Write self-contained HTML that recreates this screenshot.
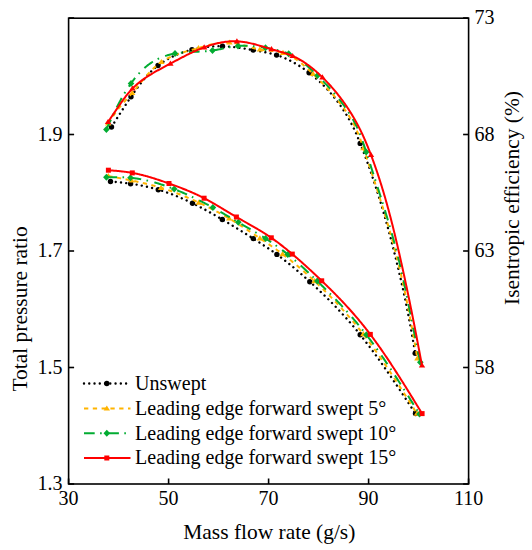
<!DOCTYPE html>
<html><head><meta charset="utf-8"><style>html,body{margin:0;padding:0;background:#fff;}svg{display:block;}text{font-family:"Liberation Serif",serif;fill:#000;}</style></head><body>
<svg width="532" height="550" viewBox="0 0 532 550">
<rect width="532" height="550" fill="#fff"/>
<path d="M111.50,127.00 L112.03,126.16 L112.56,125.32 L113.09,124.48 L113.62,123.64 L114.15,122.80 L114.68,121.96 L115.21,121.11 L115.74,120.27 L116.28,119.43 L116.81,118.59 L117.34,117.75 L117.87,116.91 L118.41,116.07 L118.94,115.23 L119.48,114.39 L120.02,113.55 L120.55,112.71 L121.09,111.87 L121.63,111.03 L122.17,110.20 L122.71,109.36 L123.25,108.52 L123.80,107.68 L124.34,106.84 L124.89,106.00 L125.44,105.17 L125.98,104.33 L126.53,103.49 L127.09,102.65 L127.64,101.82 L128.20,100.98 L128.75,100.15 L129.31,99.31 L129.87,98.48 L130.43,97.64 L131.00,96.81 L131.56,95.97 L132.13,95.14 L132.70,94.30 L133.27,93.47 L133.85,92.64 L134.43,91.81 L135.01,90.99 L135.59,90.16 L136.18,89.34 L136.77,88.52 L137.36,87.70 L137.96,86.89 L138.56,86.08 L139.17,85.27 L139.78,84.47 L140.40,83.67 L141.01,82.87 L141.64,82.08 L142.27,81.30 L142.90,80.52 L143.54,79.74 L144.19,78.98 L144.84,78.21 L145.49,77.45 L146.15,76.70 L146.82,75.96 L147.50,75.22 L148.18,74.49 L148.86,73.77 L149.56,73.05 L150.26,72.34 L150.97,71.64 L151.68,70.95 L152.40,70.27 L153.13,69.60 L153.87,68.93 L154.61,68.27 L155.37,67.63 L156.13,66.99 L156.90,66.37 L157.68,65.75 L158.47,65.14 L159.26,64.55 L160.07,63.96 L160.88,63.39 L161.70,62.83 L162.53,62.27 L163.36,61.73 L164.21,61.20 L165.06,60.68 L165.92,60.17 L166.78,59.66 L167.65,59.17 L168.53,58.69 L169.42,58.22 L170.31,57.75 L171.20,57.30 L172.10,56.86 L173.01,56.43 L173.93,56.00 L174.84,55.59 L175.77,55.18 L176.70,54.79 L177.63,54.40 L178.57,54.03 L179.51,53.66 L180.45,53.30 L181.40,52.95 L182.35,52.61 L183.31,52.28 L184.27,51.96 L185.23,51.64 L186.20,51.34 L187.16,51.04 L188.13,50.75 L189.11,50.48 L190.08,50.21 L191.06,49.94 L192.04,49.69 L193.02,49.45 L194.00,49.21 L194.98,48.98 L195.96,48.76 L196.95,48.55 L197.94,48.35 L198.92,48.15 L199.91,47.97 L200.90,47.79 L201.89,47.62 L202.88,47.47 L203.87,47.32 L204.87,47.17 L205.86,47.04 L206.85,46.92 L207.85,46.81 L208.84,46.70 L209.84,46.60 L210.83,46.52 L211.83,46.44 L212.83,46.37 L213.82,46.31 L214.82,46.26 L215.82,46.22 L216.81,46.19 L217.81,46.17 L218.80,46.16 L219.80,46.16 L220.80,46.16 L221.79,46.18 L222.79,46.21 L223.78,46.25 L224.77,46.29 L225.77,46.35 L226.76,46.41 L227.75,46.48 L228.75,46.56 L229.74,46.65 L230.73,46.74 L231.72,46.84 L232.71,46.95 L233.70,47.07 L234.69,47.19 L235.68,47.31 L236.67,47.44 L237.66,47.58 L238.65,47.72 L239.64,47.87 L240.63,48.01 L241.62,48.17 L242.61,48.32 L243.60,48.48 L244.59,48.64 L245.58,48.80 L246.56,48.97 L247.55,49.14 L248.54,49.30 L249.53,49.47 L250.52,49.64 L251.51,49.81 L252.50,49.98 L253.49,50.15 L254.48,50.32 L255.47,50.48 L256.46,50.65 L257.44,50.82 L258.43,50.99 L259.42,51.17 L260.41,51.34 L261.39,51.52 L262.38,51.70 L263.36,51.89 L264.34,52.08 L265.32,52.27 L266.30,52.47 L267.28,52.68 L268.25,52.89 L269.22,53.11 L270.20,53.34 L271.16,53.58 L272.13,53.82 L273.09,54.08 L274.05,54.34 L275.00,54.62 L275.96,54.90 L276.91,55.20 L277.85,55.50 L278.80,55.82 L279.73,56.15 L280.67,56.49 L281.60,56.85 L282.53,57.21 L283.45,57.58 L284.37,57.96 L285.29,58.36 L286.20,58.76 L287.11,59.18 L288.02,59.60 L288.92,60.03 L289.82,60.47 L290.71,60.93 L291.60,61.39 L292.49,61.86 L293.37,62.34 L294.25,62.82 L295.12,63.32 L295.99,63.82 L296.86,64.33 L297.72,64.85 L298.58,65.38 L299.43,65.92 L300.28,66.46 L301.13,67.01 L301.97,67.57 L302.80,68.13 L303.64,68.71 L304.47,69.28 L305.29,69.87 L306.11,70.46 L306.92,71.06 L307.74,71.66 L308.54,72.27 L309.34,72.89 L310.14,73.51 L310.93,74.14 L311.72,74.77 L312.51,75.41 L313.29,76.05 L314.06,76.70 L314.83,77.35 L315.60,78.01 L316.36,78.68 L317.12,79.35 L317.87,80.02 L318.62,80.70 L319.36,81.39 L320.10,82.08 L320.83,82.77 L321.56,83.47 L322.28,84.18 L323.00,84.89 L323.71,85.60 L324.42,86.32 L325.13,87.05 L325.83,87.78 L326.52,88.51 L327.21,89.25 L327.90,89.99 L328.58,90.74 L329.25,91.49 L329.92,92.25 L330.58,93.01 L331.24,93.77 L331.90,94.54 L332.55,95.32 L333.19,96.09 L333.83,96.87 L334.47,97.66 L335.10,98.45 L335.72,99.24 L336.34,100.04 L336.95,100.84 L337.56,101.65 L338.16,102.46 L338.76,103.27 L339.35,104.09 L339.94,104.91 L340.52,105.73 L341.10,106.56 L341.67,107.39 L342.24,108.22 L342.80,109.06 L343.35,109.90 L343.90,110.75 L344.45,111.60 L344.98,112.45 L345.52,113.30 L346.05,114.16 L346.57,115.02 L347.08,115.88 L347.59,116.75 L348.10,117.62 L348.60,118.49 L349.09,119.37 L349.58,120.24 L350.06,121.13 L350.54,122.01 L351.01,122.90 L351.48,123.78 L351.94,124.68 L352.39,125.57 L352.84,126.47 L353.28,127.37 L353.72,128.27 L354.15,129.17 L354.57,130.08 L354.99,130.99 L355.41,131.90 L355.81,132.81 L356.22,133.72 L356.61,134.64 L357.01,135.56 L357.39,136.48 L357.78,137.40 L358.16,138.32 L358.54,139.25 L358.91,140.17 L359.28,141.10 L359.65,142.02 L360.02,142.95 L360.39,143.88 L360.75,144.81 L361.12,145.74 L361.48,146.67 L361.84,147.60 L362.20,148.53 L362.56,149.46 L362.91,150.39 L363.27,151.33 L363.62,152.26 L363.98,153.19 L364.33,154.13 L364.68,155.06 L365.03,156.00 L365.37,156.93 L365.72,157.87 L366.06,158.81 L366.41,159.74 L366.75,160.68 L367.09,161.62 L367.43,162.56 L367.77,163.50 L368.10,164.44 L368.44,165.38 L368.77,166.32 L369.11,167.26 L369.44,168.20 L369.77,169.14 L370.10,170.09 L370.42,171.03 L370.75,171.97 L371.08,172.92 L371.40,173.86 L371.72,174.81 L372.04,175.75 L372.37,176.70 L372.68,177.64 L373.00,178.59 L373.32,179.54 L373.64,180.49 L373.95,181.43 L374.26,182.38 L374.57,183.33 L374.89,184.28 L375.20,185.23 L375.50,186.18 L375.81,187.13 L376.12,188.08 L376.42,189.03 L376.73,189.98 L377.03,190.94 L377.33,191.89 L377.63,192.84 L377.93,193.80 L378.23,194.75 L378.53,195.70 L378.82,196.66 L379.12,197.61 L379.41,198.57 L379.71,199.52 L380.00,200.48 L380.29,201.43 L380.58,202.39 L380.87,203.35 L381.16,204.31 L381.44,205.26 L381.73,206.22 L382.01,207.18 L382.30,208.14 L382.58,209.10 L382.86,210.06 L383.14,211.01 L383.42,211.97 L383.70,212.93 L383.98,213.89 L384.26,214.86 L384.53,215.82 L384.81,216.78 L385.08,217.74 L385.35,218.70 L385.62,219.66 L385.90,220.63 L386.17,221.59 L386.44,222.55 L386.70,223.51 L386.97,224.48 L387.24,225.44 L387.50,226.41 L387.77,227.37 L388.03,228.33 L388.29,229.30 L388.56,230.26 L388.82,231.23 L389.08,232.19 L389.34,233.16 L389.59,234.13 L389.85,235.09 L390.11,236.06 L390.36,237.03 L390.62,237.99 L390.87,238.96 L391.13,239.93 L391.38,240.89 L391.63,241.86 L391.88,242.83 L392.13,243.80 L392.38,244.77 L392.63,245.73 L392.88,246.70 L393.13,247.67 L393.37,248.64 L393.62,249.61 L393.86,250.58 L394.11,251.55 L394.35,252.52 L394.59,253.49 L394.83,254.46 L395.07,255.43 L395.31,256.40 L395.55,257.37 L395.79,258.34 L396.03,259.31 L396.27,260.28 L396.50,261.25 L396.74,262.22 L396.98,263.19 L397.21,264.16 L397.44,265.13 L397.68,266.11 L397.91,267.08 L398.14,268.05 L398.37,269.02 L398.60,269.99 L398.83,270.97 L399.06,271.94 L399.29,272.91 L399.52,273.88 L399.74,274.86 L399.97,275.83 L400.19,276.80 L400.42,277.78 L400.64,278.75 L400.86,279.72 L401.09,280.70 L401.31,281.67 L401.53,282.64 L401.75,283.62 L401.97,284.59 L402.18,285.57 L402.40,286.54 L402.62,287.52 L402.83,288.49 L403.05,289.47 L403.26,290.44 L403.47,291.42 L403.68,292.39 L403.90,293.37 L404.11,294.34 L404.32,295.32 L404.52,296.30 L404.73,297.27 L404.94,298.25 L405.14,299.23 L405.35,300.20 L405.55,301.18 L405.76,302.16 L405.96,303.13 L406.16,304.11 L406.36,305.09 L406.56,306.07 L406.76,307.05 L406.96,308.02 L407.15,309.00 L407.35,309.98 L407.55,310.96 L407.74,311.94 L407.93,312.92 L408.13,313.90 L408.32,314.88 L408.51,315.86 L408.70,316.84 L408.88,317.82 L409.07,318.80 L409.26,319.78 L409.44,320.76 L409.63,321.74 L409.81,322.72 L409.99,323.70 L410.18,324.69 L410.36,325.67 L410.54,326.65 L410.72,327.63 L410.90,328.61 L411.07,329.60 L411.25,330.58 L411.43,331.56 L411.60,332.54 L411.78,333.53 L411.95,334.51 L412.13,335.49 L412.30,336.48 L412.47,337.46 L412.65,338.44 L412.82,339.43 L412.99,340.41 L413.16,341.39 L413.33,342.38 L413.50,343.36 L413.67,344.34 L413.84,345.33 L414.01,346.31 L414.18,347.30 L414.35,348.28 L414.52,349.26 L414.69,350.25 L414.86,351.23 L415.03,352.22 L415.20,353.20" fill="none" stroke="#000000" stroke-width="2.4" stroke-linecap="round" stroke-dasharray="0.01 5.25"/>
<circle cx="111.5" cy="127.0" r="2.70" fill="#000000"/>
<circle cx="131.0" cy="96.8" r="2.70" fill="#000000"/>
<circle cx="158.0" cy="65.5" r="2.70" fill="#000000"/>
<circle cx="192.0" cy="49.7" r="2.70" fill="#000000"/>
<circle cx="222.5" cy="46.2" r="2.70" fill="#000000"/>
<circle cx="253.2" cy="50.1" r="2.70" fill="#000000"/>
<circle cx="276.6" cy="55.1" r="2.70" fill="#000000"/>
<circle cx="309.1" cy="72.7" r="2.70" fill="#000000"/>
<circle cx="360.2" cy="143.4" r="2.70" fill="#000000"/>
<circle cx="415.2" cy="353.2" r="2.70" fill="#000000"/>
<path d="M108.20,123.50 L108.75,122.66 L109.30,121.82 L109.85,120.98 L110.40,120.15 L110.95,119.31 L111.51,118.48 L112.07,117.65 L112.63,116.82 L113.19,115.99 L113.76,115.17 L114.33,114.35 L114.90,113.53 L115.48,112.72 L116.07,111.91 L116.66,111.10 L117.26,110.31 L117.86,109.51 L118.47,108.73 L119.08,107.95 L119.71,107.17 L120.34,106.40 L120.97,105.64 L121.62,104.88 L122.27,104.13 L122.92,103.38 L123.58,102.63 L124.24,101.89 L124.90,101.14 L125.57,100.40 L126.24,99.66 L126.91,98.92 L127.58,98.18 L128.25,97.44 L128.92,96.69 L129.60,95.95 L130.27,95.20 L130.93,94.45 L131.60,93.69 L132.26,92.93 L132.92,92.16 L133.58,91.39 L134.23,90.61 L134.88,89.84 L135.53,89.05 L136.18,88.27 L136.83,87.48 L137.47,86.69 L138.12,85.90 L138.76,85.11 L139.40,84.32 L140.05,83.53 L140.69,82.74 L141.34,81.95 L141.98,81.16 L142.63,80.38 L143.28,79.59 L143.93,78.81 L144.58,78.04 L145.24,77.27 L145.89,76.50 L146.56,75.74 L147.22,74.98 L147.89,74.23 L148.57,73.48 L149.24,72.75 L149.93,72.02 L150.62,71.29 L151.31,70.58 L152.01,69.88 L152.71,69.18 L153.43,68.49 L154.15,67.82 L154.87,67.16 L155.61,66.50 L156.35,65.86 L157.10,65.23 L157.85,64.62 L158.62,64.01 L159.40,63.43 L160.18,62.85 L160.97,62.29 L161.78,61.75 L162.59,61.22 L163.42,60.70 L164.25,60.20 L165.09,59.72 L165.94,59.24 L166.80,58.78 L167.67,58.34 L168.55,57.90 L169.43,57.48 L170.32,57.07 L171.22,56.67 L172.13,56.28 L173.04,55.90 L173.96,55.53 L174.89,55.16 L175.82,54.81 L176.76,54.47 L177.70,54.13 L178.65,53.80 L179.60,53.48 L180.56,53.16 L181.52,52.85 L182.49,52.54 L183.46,52.24 L184.43,51.95 L185.41,51.66 L186.38,51.37 L187.37,51.09 L188.35,50.81 L189.34,50.53 L190.33,50.25 L191.32,49.98 L192.31,49.70 L193.30,49.43 L194.30,49.16 L195.29,48.89 L196.29,48.61 L197.28,48.34 L198.28,48.06 L199.27,47.78 L200.27,47.50 L201.26,47.22 L202.25,46.95 L203.25,46.67 L204.24,46.39 L205.23,46.12 L206.22,45.85 L207.21,45.58 L208.20,45.32 L209.19,45.06 L210.18,44.81 L211.16,44.57 L212.15,44.34 L213.14,44.12 L214.12,43.90 L215.10,43.70 L216.09,43.51 L217.07,43.33 L218.05,43.17 L219.03,43.02 L220.01,42.88 L220.99,42.76 L221.97,42.66 L222.95,42.57 L223.92,42.50 L224.90,42.45 L225.87,42.42 L226.84,42.41 L227.82,42.43 L228.79,42.46 L229.76,42.52 L230.73,42.60 L231.69,42.70 L232.66,42.82 L233.63,42.97 L234.59,43.13 L235.56,43.31 L236.52,43.50 L237.49,43.71 L238.45,43.93 L239.42,44.16 L240.38,44.41 L241.35,44.66 L242.32,44.92 L243.28,45.19 L244.25,45.46 L245.22,45.73 L246.19,46.01 L247.16,46.30 L248.13,46.58 L249.10,46.86 L250.08,47.13 L251.06,47.41 L252.03,47.68 L253.01,47.94 L254.00,48.20 L254.98,48.45 L255.97,48.68 L256.96,48.91 L257.95,49.12 L258.94,49.32 L259.94,49.51 L260.94,49.68 L261.94,49.83 L262.95,49.97 L263.95,50.10 L264.96,50.22 L265.97,50.34 L266.98,50.45 L267.98,50.55 L268.99,50.65 L269.99,50.75 L271.00,50.86 L272.00,50.96 L272.99,51.07 L273.99,51.19 L274.98,51.31 L275.96,51.45 L276.94,51.59 L277.92,51.75 L278.89,51.93 L279.85,52.12 L280.80,52.33 L281.75,52.56 L282.69,52.81 L283.62,53.09 L284.55,53.39 L285.46,53.71 L286.37,54.06 L287.27,54.43 L288.16,54.82 L289.04,55.23 L289.92,55.66 L290.79,56.11 L291.65,56.58 L292.51,57.06 L293.36,57.57 L294.20,58.09 L295.04,58.62 L295.87,59.18 L296.69,59.74 L297.51,60.33 L298.33,60.92 L299.14,61.53 L299.94,62.15 L300.74,62.78 L301.53,63.42 L302.32,64.07 L303.11,64.74 L303.89,65.41 L304.67,66.09 L305.44,66.77 L306.21,67.47 L306.98,68.17 L307.74,68.87 L308.50,69.58 L309.26,70.30 L310.01,71.02 L310.77,71.74 L311.52,72.46 L312.27,73.19 L313.01,73.91 L313.76,74.64 L314.50,75.37 L315.24,76.09 L315.98,76.82 L316.72,77.55 L317.45,78.28 L318.19,79.01 L318.92,79.74 L319.65,80.47 L320.37,81.21 L321.10,81.94 L321.82,82.67 L322.53,83.41 L323.25,84.15 L323.96,84.88 L324.67,85.62 L325.38,86.36 L326.08,87.11 L326.78,87.85 L327.48,88.60 L328.17,89.34 L328.86,90.09 L329.55,90.84 L330.23,91.59 L330.91,92.35 L331.58,93.10 L332.25,93.86 L332.92,94.62 L333.58,95.38 L334.24,96.14 L334.90,96.91 L335.55,97.67 L336.19,98.44 L336.83,99.22 L337.47,99.99 L338.10,100.77 L338.73,101.55 L339.35,102.33 L339.96,103.11 L340.58,103.90 L341.18,104.69 L341.78,105.48 L342.38,106.28 L342.97,107.08 L343.56,107.88 L344.13,108.69 L344.71,109.49 L345.28,110.30 L345.84,111.12 L346.39,111.94 L346.94,112.76 L347.49,113.58 L348.03,114.41 L348.56,115.24 L349.08,116.08 L349.60,116.91 L350.11,117.76 L350.62,118.60 L351.12,119.45 L351.61,120.31 L352.09,121.16 L352.57,122.03 L353.04,122.89 L353.51,123.76 L353.96,124.64 L354.41,125.51 L354.85,126.40 L355.29,127.28 L355.71,128.17 L356.13,129.07 L356.54,129.97 L356.95,130.88 L357.34,131.79 L357.73,132.70 L358.11,133.62 L358.48,134.54 L358.85,135.47 L359.21,136.39 L359.57,137.33 L359.92,138.26 L360.26,139.20 L360.60,140.14 L360.94,141.08 L361.28,142.03 L361.61,142.97 L361.94,143.92 L362.26,144.87 L362.59,145.82 L362.91,146.77 L363.24,147.72 L363.56,148.67 L363.88,149.62 L364.20,150.57 L364.53,151.52 L364.85,152.47 L365.17,153.42 L365.49,154.37 L365.81,155.32 L366.13,156.27 L366.45,157.22 L366.77,158.17 L367.09,159.12 L367.41,160.07 L367.73,161.02 L368.05,161.97 L368.37,162.92 L368.69,163.87 L369.00,164.82 L369.32,165.77 L369.64,166.72 L369.95,167.67 L370.27,168.62 L370.59,169.57 L370.90,170.52 L371.22,171.48 L371.53,172.43 L371.84,173.38 L372.16,174.33 L372.47,175.28 L372.78,176.23 L373.10,177.18 L373.41,178.13 L373.72,179.08 L374.03,180.03 L374.34,180.98 L374.65,181.93 L374.96,182.88 L375.27,183.84 L375.58,184.79 L375.89,185.74 L376.19,186.69 L376.50,187.64 L376.81,188.59 L377.11,189.54 L377.42,190.50 L377.72,191.45 L378.03,192.40 L378.33,193.35 L378.63,194.30 L378.93,195.26 L379.24,196.21 L379.54,197.16 L379.84,198.12 L380.14,199.07 L380.44,200.02 L380.73,200.97 L381.03,201.93 L381.33,202.88 L381.63,203.84 L381.92,204.79 L382.22,205.74 L382.51,206.70 L382.80,207.65 L383.10,208.61 L383.39,209.56 L383.68,210.52 L383.97,211.47 L384.26,212.43 L384.55,213.38 L384.84,214.34 L385.13,215.29 L385.41,216.25 L385.70,217.20 L385.98,218.16 L386.27,219.12 L386.55,220.07 L386.83,221.03 L387.12,221.99 L387.40,222.94 L387.68,223.90 L387.96,224.86 L388.24,225.82 L388.51,226.78 L388.79,227.74 L389.07,228.69 L389.34,229.65 L389.61,230.61 L389.89,231.57 L390.16,232.53 L390.43,233.49 L390.70,234.45 L390.97,235.41 L391.24,236.37 L391.51,237.33 L391.77,238.29 L392.04,239.26 L392.30,240.22 L392.57,241.18 L392.83,242.14 L393.09,243.10 L393.35,244.07 L393.61,245.03 L393.87,245.99 L394.13,246.96 L394.39,247.92 L394.64,248.89 L394.90,249.85 L395.15,250.82 L395.40,251.78 L395.65,252.75 L395.90,253.71 L396.15,254.68 L396.40,255.65 L396.65,256.61 L396.89,257.58 L397.14,258.55 L397.38,259.52 L397.62,260.48 L397.86,261.45 L398.10,262.42 L398.34,263.39 L398.58,264.36 L398.82,265.33 L399.05,266.30 L399.28,267.27 L399.52,268.24 L399.75,269.21 L399.98,270.19 L400.21,271.16 L400.44,272.13 L400.67,273.10 L400.89,274.08 L401.12,275.05 L401.35,276.02 L401.57,277.00 L401.79,277.97 L402.01,278.94 L402.23,279.92 L402.45,280.89 L402.67,281.87 L402.89,282.84 L403.11,283.82 L403.32,284.79 L403.54,285.77 L403.75,286.75 L403.96,287.72 L404.18,288.70 L404.39,289.68 L404.60,290.65 L404.81,291.63 L405.01,292.61 L405.22,293.59 L405.43,294.56 L405.63,295.54 L405.84,296.52 L406.04,297.50 L406.25,298.48 L406.45,299.46 L406.65,300.44 L406.85,301.41 L407.05,302.39 L407.25,303.37 L407.45,304.35 L407.64,305.33 L407.84,306.31 L408.04,307.29 L408.23,308.27 L408.42,309.26 L408.62,310.24 L408.81,311.22 L409.00,312.20 L409.19,313.18 L409.38,314.16 L409.57,315.14 L409.76,316.12 L409.95,317.10 L410.14,318.09 L410.32,319.07 L410.51,320.05 L410.69,321.03 L410.88,322.01 L411.06,323.00 L411.25,323.98 L411.43,324.96 L411.61,325.94 L411.79,326.93 L411.97,327.91 L412.15,328.89 L412.33,329.88 L412.51,330.86 L412.69,331.84 L412.87,332.82 L413.05,333.81 L413.23,334.79 L413.40,335.77 L413.58,336.76 L413.76,337.74 L413.93,338.72 L414.11,339.71 L414.28,340.69 L414.46,341.67 L414.63,342.66 L414.81,343.64 L414.98,344.63 L415.15,345.61 L415.33,346.59 L415.50,347.58 L415.67,348.56 L415.85,349.54 L416.02,350.53 L416.19,351.51 L416.37,352.50 L416.54,353.48 L416.71,354.46 L416.88,355.45 L417.06,356.43 L417.23,357.42 L417.40,358.40" fill="none" stroke="#FFB400" stroke-width="2" stroke-dasharray="4.3 4.5"/>
<polygon points="108.2,120.4 111.4,125.6 105.0,125.6" fill="#FFB400"/>
<polygon points="132.2,89.9 135.4,95.1 129.0,95.1" fill="#FFB400"/>
<polygon points="161.4,58.9 164.6,64.1 158.2,64.1" fill="#FFB400"/>
<polygon points="198.5,44.9 201.7,50.1 195.3,50.1" fill="#FFB400"/>
<polygon points="229.5,39.4 232.7,44.6 226.3,44.6" fill="#FFB400"/>
<polygon points="259.9,46.4 263.1,51.6 256.7,51.6" fill="#FFB400"/>
<polygon points="283.0,49.8 286.2,55.0 279.8,55.0" fill="#FFB400"/>
<polygon points="313.0,70.8 316.2,76.0 309.8,76.0" fill="#FFB400"/>
<polygon points="363.4,145.1 366.6,150.3 360.2,150.3" fill="#FFB400"/>
<polygon points="417.4,355.3 420.6,360.5 414.2,360.5" fill="#FFB400"/>
<path d="M106.40,129.40 L106.81,128.49 L107.23,127.58 L107.64,126.67 L108.05,125.76 L108.47,124.84 L108.88,123.93 L109.30,123.02 L109.72,122.11 L110.14,121.21 L110.56,120.30 L110.98,119.39 L111.40,118.48 L111.82,117.58 L112.25,116.67 L112.67,115.77 L113.10,114.86 L113.53,113.96 L113.96,113.06 L114.40,112.16 L114.84,111.26 L115.28,110.36 L115.72,109.47 L116.17,108.57 L116.61,107.68 L117.07,106.79 L117.52,105.90 L117.98,105.01 L118.44,104.13 L118.90,103.24 L119.37,102.36 L119.85,101.48 L120.32,100.60 L120.80,99.73 L121.29,98.85 L121.78,97.98 L122.27,97.11 L122.77,96.24 L123.27,95.38 L123.78,94.52 L124.29,93.66 L124.81,92.80 L125.33,91.95 L125.86,91.10 L126.39,90.25 L126.93,89.40 L127.48,88.56 L128.03,87.72 L128.58,86.89 L129.15,86.06 L129.72,85.23 L130.29,84.40 L130.87,83.58 L131.46,82.76 L132.06,81.94 L132.66,81.13 L133.27,80.33 L133.88,79.52 L134.51,78.73 L135.14,77.94 L135.78,77.15 L136.42,76.38 L137.08,75.61 L137.74,74.84 L138.41,74.09 L139.08,73.34 L139.77,72.60 L140.46,71.87 L141.17,71.15 L141.88,70.44 L142.60,69.74 L143.33,69.05 L144.07,68.37 L144.81,67.70 L145.57,67.05 L146.34,66.41 L147.11,65.77 L147.90,65.16 L148.69,64.55 L149.49,63.96 L150.31,63.38 L151.13,62.82 L151.97,62.27 L152.82,61.74 L153.67,61.22 L154.54,60.72 L155.41,60.24 L156.30,59.77 L157.19,59.31 L158.09,58.87 L159.00,58.45 L159.92,58.04 L160.84,57.64 L161.77,57.26 L162.71,56.89 L163.65,56.54 L164.60,56.21 L165.56,55.88 L166.52,55.58 L167.48,55.28 L168.45,55.00 L169.42,54.74 L170.40,54.49 L171.38,54.25 L172.36,54.03 L173.34,53.82 L174.33,53.62 L175.32,53.44 L176.30,53.28 L177.29,53.12 L178.28,52.98 L179.28,52.85 L180.27,52.73 L181.26,52.62 L182.26,52.52 L183.25,52.42 L184.25,52.34 L185.24,52.26 L186.24,52.19 L187.24,52.13 L188.24,52.07 L189.24,52.02 L190.23,51.97 L191.23,51.92 L192.23,51.88 L193.23,51.84 L194.23,51.80 L195.23,51.76 L196.23,51.72 L197.23,51.68 L198.23,51.64 L199.23,51.60 L200.23,51.55 L201.23,51.50 L202.22,51.45 L203.22,51.39 L204.22,51.33 L205.22,51.26 L206.21,51.18 L207.21,51.10 L208.20,51.01 L209.19,50.91 L210.19,50.80 L211.18,50.68 L212.17,50.55 L213.16,50.40 L214.14,50.25 L215.13,50.09 L216.12,49.92 L217.10,49.74 L218.09,49.55 L219.07,49.36 L220.05,49.16 L221.04,48.96 L222.02,48.76 L223.00,48.56 L223.98,48.35 L224.96,48.15 L225.94,47.95 L226.93,47.75 L227.91,47.55 L228.89,47.36 L229.87,47.17 L230.85,46.99 L231.84,46.82 L232.82,46.66 L233.80,46.51 L234.79,46.37 L235.77,46.24 L236.76,46.13 L237.75,46.02 L238.73,45.94 L239.72,45.87 L240.71,45.81 L241.71,45.77 L242.70,45.74 L243.69,45.72 L244.68,45.72 L245.68,45.73 L246.67,45.75 L247.67,45.79 L248.67,45.83 L249.66,45.89 L250.66,45.95 L251.66,46.03 L252.66,46.11 L253.66,46.20 L254.66,46.30 L255.65,46.41 L256.65,46.53 L257.65,46.65 L258.65,46.78 L259.66,46.92 L260.66,47.06 L261.66,47.20 L262.66,47.35 L263.66,47.51 L264.66,47.66 L265.66,47.83 L266.66,47.99 L267.66,48.16 L268.65,48.33 L269.65,48.50 L270.65,48.69 L271.64,48.87 L272.63,49.07 L273.62,49.27 L274.61,49.47 L275.59,49.69 L276.57,49.91 L277.55,50.15 L278.52,50.39 L279.49,50.64 L280.45,50.91 L281.41,51.18 L282.36,51.47 L283.31,51.77 L284.25,52.08 L285.18,52.41 L286.11,52.75 L287.03,53.11 L287.95,53.48 L288.85,53.87 L289.75,54.27 L290.64,54.69 L291.53,55.13 L292.40,55.58 L293.27,56.04 L294.13,56.52 L294.99,57.02 L295.84,57.52 L296.68,58.05 L297.51,58.58 L298.34,59.12 L299.16,59.68 L299.98,60.25 L300.79,60.83 L301.60,61.42 L302.40,62.02 L303.20,62.63 L303.99,63.25 L304.77,63.88 L305.55,64.52 L306.33,65.17 L307.10,65.82 L307.87,66.48 L308.64,67.15 L309.40,67.82 L310.15,68.50 L310.91,69.19 L311.66,69.88 L312.40,70.58 L313.15,71.28 L313.89,71.98 L314.62,72.69 L315.36,73.40 L316.09,74.12 L316.82,74.83 L317.55,75.55 L318.28,76.27 L319.01,77.00 L319.73,77.72 L320.45,78.45 L321.17,79.17 L321.89,79.90 L322.60,80.63 L323.31,81.37 L324.02,82.10 L324.73,82.84 L325.43,83.58 L326.13,84.32 L326.83,85.06 L327.53,85.80 L328.22,86.55 L328.91,87.30 L329.60,88.05 L330.28,88.80 L330.96,89.56 L331.63,90.31 L332.31,91.07 L332.97,91.84 L333.64,92.60 L334.30,93.37 L334.96,94.14 L335.61,94.91 L336.26,95.68 L336.90,96.46 L337.54,97.24 L338.18,98.02 L338.81,98.80 L339.44,99.59 L340.06,100.38 L340.68,101.17 L341.29,101.97 L341.90,102.77 L342.50,103.57 L343.10,104.37 L343.69,105.18 L344.28,105.99 L344.86,106.80 L345.44,107.62 L346.01,108.43 L346.58,109.26 L347.14,110.08 L347.69,110.91 L348.24,111.74 L348.78,112.57 L349.32,113.41 L349.85,114.25 L350.37,115.10 L350.89,115.94 L351.40,116.79 L351.91,117.65 L352.41,118.51 L352.90,119.37 L353.38,120.23 L353.86,121.10 L354.33,121.97 L354.80,122.85 L355.26,123.73 L355.71,124.61 L356.15,125.50 L356.59,126.39 L357.02,127.28 L357.44,128.18 L357.85,129.08 L358.26,129.99 L358.65,130.90 L359.05,131.81 L359.43,132.73 L359.80,133.65 L360.17,134.57 L360.54,135.50 L360.89,136.43 L361.24,137.36 L361.59,138.30 L361.93,139.24 L362.26,140.18 L362.60,141.12 L362.92,142.07 L363.25,143.01 L363.57,143.96 L363.89,144.91 L364.20,145.86 L364.52,146.81 L364.83,147.77 L365.14,148.72 L365.45,149.67 L365.76,150.63 L366.07,151.58 L366.37,152.54 L366.68,153.49 L366.99,154.45 L367.30,155.40 L367.61,156.35 L367.92,157.31 L368.23,158.26 L368.54,159.21 L368.85,160.17 L369.16,161.12 L369.47,162.07 L369.78,163.03 L370.09,163.98 L370.40,164.93 L370.71,165.89 L371.02,166.84 L371.33,167.79 L371.64,168.74 L371.95,169.70 L372.26,170.65 L372.57,171.60 L372.88,172.55 L373.19,173.50 L373.50,174.46 L373.81,175.41 L374.12,176.36 L374.43,177.31 L374.73,178.26 L375.04,179.22 L375.35,180.17 L375.66,181.12 L375.97,182.07 L376.28,183.02 L376.58,183.98 L376.89,184.93 L377.20,185.88 L377.50,186.83 L377.81,187.78 L378.12,188.74 L378.42,189.69 L378.73,190.64 L379.03,191.59 L379.34,192.55 L379.64,193.50 L379.94,194.45 L380.25,195.40 L380.55,196.36 L380.85,197.31 L381.15,198.26 L381.45,199.21 L381.75,200.17 L382.05,201.12 L382.35,202.07 L382.65,203.03 L382.95,203.98 L383.25,204.93 L383.54,205.89 L383.84,206.84 L384.14,207.79 L384.43,208.75 L384.73,209.70 L385.02,210.66 L385.31,211.61 L385.60,212.57 L385.90,213.52 L386.19,214.48 L386.48,215.43 L386.77,216.39 L387.05,217.34 L387.34,218.30 L387.63,219.25 L387.91,220.21 L388.20,221.17 L388.48,222.12 L388.77,223.08 L389.05,224.04 L389.33,224.99 L389.61,225.95 L389.89,226.91 L390.17,227.87 L390.45,228.83 L390.72,229.78 L391.00,230.74 L391.27,231.70 L391.55,232.66 L391.82,233.62 L392.09,234.58 L392.36,235.54 L392.63,236.50 L392.90,237.46 L393.16,238.42 L393.43,239.38 L393.69,240.35 L393.96,241.31 L394.22,242.27 L394.48,243.23 L394.74,244.19 L395.00,245.16 L395.26,246.12 L395.51,247.09 L395.77,248.05 L396.02,249.01 L396.27,249.98 L396.52,250.94 L396.77,251.91 L397.02,252.88 L397.27,253.84 L397.51,254.81 L397.75,255.78 L398.00,256.74 L398.24,257.71 L398.48,258.68 L398.71,259.65 L398.95,260.62 L399.19,261.59 L399.42,262.56 L399.65,263.53 L399.88,264.50 L400.11,265.47 L400.34,266.44 L400.57,267.42 L400.79,268.39 L401.02,269.36 L401.24,270.33 L401.46,271.31 L401.68,272.28 L401.90,273.26 L402.12,274.23 L402.34,275.20 L402.55,276.18 L402.77,277.15 L402.98,278.13 L403.19,279.11 L403.41,280.08 L403.62,281.06 L403.83,282.03 L404.04,283.01 L404.25,283.99 L404.45,284.97 L404.66,285.94 L404.87,286.92 L405.07,287.90 L405.28,288.88 L405.48,289.85 L405.69,290.83 L405.89,291.81 L406.09,292.79 L406.30,293.77 L406.50,294.75 L406.70,295.73 L406.90,296.71 L407.10,297.69 L407.30,298.67 L407.50,299.65 L407.70,300.62 L407.89,301.60 L408.09,302.58 L408.29,303.56 L408.49,304.54 L408.69,305.52 L408.88,306.50 L409.08,307.48 L409.28,308.46 L409.48,309.44 L409.67,310.42 L409.87,311.40 L410.07,312.38 L410.26,313.36 L410.46,314.34 L410.66,315.32 L410.85,316.30 L411.05,317.28 L411.25,318.26 L411.45,319.24 L411.65,320.22 L411.84,321.20 L412.04,322.18 L412.24,323.16 L412.44,324.14 L412.64,325.12 L412.84,326.10 L413.04,327.08 L413.24,328.06 L413.44,329.04 L413.64,330.02 L413.84,331.00 L414.04,331.97 L414.24,332.95 L414.44,333.93 L414.64,334.91 L414.84,335.89 L415.04,336.87 L415.24,337.85 L415.44,338.82 L415.64,339.80 L415.85,340.78 L416.05,341.76 L416.25,342.74 L416.45,343.72 L416.65,344.70 L416.85,345.67 L417.06,346.65 L417.26,347.63 L417.46,348.61 L417.66,349.59 L417.87,350.56 L418.07,351.54 L418.27,352.52 L418.47,353.50 L418.68,354.48 L418.88,355.45 L419.08,356.43 L419.29,357.41 L419.49,358.39 L419.69,359.37 L419.89,360.34 L420.10,361.32 L420.30,362.30" fill="none" stroke="#02AC32" stroke-width="2" stroke-dasharray="10.7 5.4 1.6 6.5"/>
<polygon points="106.4,125.9 109.7,129.4 106.4,132.9 103.1,129.4" fill="#02AC32"/>
<polygon points="131.0,79.9 134.3,83.4 131.0,86.9 127.7,83.4" fill="#02AC32"/>
<polygon points="175.0,50.0 178.3,53.5 175.0,57.0 171.7,53.5" fill="#02AC32"/>
<polygon points="212.5,47.0 215.8,50.5 212.5,54.0 209.2,50.5" fill="#02AC32"/>
<polygon points="238.0,42.5 241.3,46.0 238.0,49.5 234.7,46.0" fill="#02AC32"/>
<polygon points="265.5,44.3 268.8,47.8 265.5,51.3 262.2,47.8" fill="#02AC32"/>
<polygon points="288.7,50.3 292.0,53.8 288.7,57.3 285.4,53.8" fill="#02AC32"/>
<polygon points="317.5,72.0 320.8,75.5 317.5,79.0 314.2,75.5" fill="#02AC32"/>
<polygon points="366.2,148.5 369.5,152.0 366.2,155.5 362.9,152.0" fill="#02AC32"/>
<polygon points="420.3,358.8 423.6,362.3 420.3,365.8 417.0,362.3" fill="#02AC32"/>
<path d="M108.00,122.00 L108.56,121.17 L109.12,120.35 L109.68,119.52 L110.24,118.70 L110.80,117.87 L111.35,117.04 L111.91,116.22 L112.47,115.39 L113.04,114.56 L113.60,113.74 L114.16,112.91 L114.72,112.08 L115.28,111.26 L115.85,110.43 L116.41,109.60 L116.98,108.77 L117.54,107.95 L118.11,107.12 L118.67,106.29 L119.24,105.46 L119.81,104.63 L120.38,103.81 L120.96,102.98 L121.54,102.16 L122.11,101.33 L122.70,100.52 L123.28,99.70 L123.88,98.89 L124.47,98.08 L125.07,97.28 L125.68,96.48 L126.29,95.68 L126.91,94.90 L127.53,94.12 L128.16,93.34 L128.80,92.58 L129.45,91.82 L130.11,91.07 L130.77,90.33 L131.44,89.60 L132.13,88.88 L132.82,88.18 L133.52,87.48 L134.23,86.79 L134.96,86.11 L135.69,85.44 L136.43,84.78 L137.18,84.13 L137.93,83.49 L138.70,82.86 L139.47,82.24 L140.25,81.63 L141.04,81.02 L141.84,80.42 L142.64,79.83 L143.45,79.25 L144.27,78.67 L145.09,78.11 L145.92,77.54 L146.75,76.99 L147.59,76.44 L148.43,75.90 L149.28,75.36 L150.14,74.83 L150.99,74.30 L151.86,73.78 L152.72,73.26 L153.59,72.75 L154.47,72.24 L155.34,71.74 L156.22,71.24 L157.10,70.74 L157.99,70.25 L158.88,69.76 L159.76,69.27 L160.66,68.79 L161.55,68.31 L162.44,67.83 L163.33,67.35 L164.23,66.87 L165.12,66.39 L166.02,65.92 L166.91,65.45 L167.81,64.97 L168.70,64.50 L169.59,64.03 L170.48,63.56 L171.37,63.08 L172.26,62.61 L173.15,62.14 L174.04,61.66 L174.92,61.19 L175.81,60.72 L176.70,60.25 L177.58,59.78 L178.47,59.31 L179.35,58.84 L180.24,58.38 L181.12,57.91 L182.01,57.45 L182.89,56.99 L183.78,56.53 L184.67,56.08 L185.56,55.62 L186.45,55.18 L187.34,54.73 L188.23,54.29 L189.13,53.85 L190.02,53.41 L190.92,52.98 L191.82,52.55 L192.72,52.13 L193.63,51.71 L194.53,51.30 L195.44,50.89 L196.36,50.48 L197.27,50.08 L198.19,49.69 L199.11,49.30 L200.04,48.92 L200.97,48.55 L201.90,48.18 L202.84,47.81 L203.78,47.46 L204.72,47.11 L205.67,46.76 L206.63,46.43 L207.58,46.10 L208.54,45.78 L209.51,45.47 L210.47,45.17 L211.44,44.87 L212.42,44.59 L213.39,44.31 L214.37,44.05 L215.35,43.79 L216.34,43.55 L217.32,43.31 L218.31,43.09 L219.30,42.88 L220.29,42.68 L221.28,42.49 L222.27,42.31 L223.27,42.15 L224.26,41.99 L225.26,41.86 L226.25,41.73 L227.25,41.62 L228.24,41.52 L229.24,41.44 L230.24,41.37 L231.23,41.31 L232.23,41.27 L233.22,41.25 L234.22,41.24 L235.21,41.25 L236.20,41.27 L237.19,41.31 L238.18,41.37 L239.17,41.44 L240.15,41.53 L241.14,41.64 L242.12,41.75 L243.11,41.89 L244.09,42.03 L245.07,42.19 L246.05,42.36 L247.02,42.54 L248.00,42.73 L248.98,42.93 L249.95,43.14 L250.93,43.37 L251.90,43.60 L252.87,43.83 L253.84,44.08 L254.82,44.33 L255.79,44.59 L256.76,44.86 L257.73,45.13 L258.70,45.40 L259.67,45.68 L260.64,45.96 L261.61,46.25 L262.58,46.54 L263.54,46.83 L264.51,47.12 L265.48,47.41 L266.45,47.70 L267.42,47.99 L268.39,48.28 L269.36,48.57 L270.33,48.86 L271.30,49.14 L272.27,49.42 L273.24,49.70 L274.21,49.98 L275.18,50.25 L276.15,50.52 L277.11,50.80 L278.08,51.08 L279.05,51.35 L280.01,51.63 L280.97,51.92 L281.93,52.20 L282.89,52.49 L283.84,52.79 L284.79,53.10 L285.74,53.41 L286.68,53.73 L287.62,54.05 L288.56,54.39 L289.49,54.74 L290.41,55.10 L291.33,55.47 L292.25,55.85 L293.16,56.24 L294.06,56.65 L294.96,57.07 L295.85,57.51 L296.74,57.96 L297.62,58.42 L298.50,58.89 L299.37,59.37 L300.23,59.86 L301.09,60.37 L301.94,60.89 L302.79,61.41 L303.63,61.95 L304.47,62.50 L305.31,63.06 L306.13,63.62 L306.95,64.20 L307.77,64.79 L308.58,65.38 L309.39,65.98 L310.19,66.59 L310.99,67.21 L311.78,67.84 L312.57,68.48 L313.35,69.12 L314.13,69.77 L314.90,70.42 L315.67,71.08 L316.43,71.75 L317.19,72.42 L317.95,73.10 L318.70,73.79 L319.44,74.48 L320.18,75.17 L320.92,75.87 L321.65,76.57 L322.38,77.28 L323.10,77.99 L323.82,78.70 L324.53,79.42 L325.24,80.14 L325.95,80.87 L326.65,81.60 L327.35,82.33 L328.04,83.07 L328.73,83.80 L329.41,84.55 L330.09,85.29 L330.77,86.04 L331.44,86.80 L332.10,87.55 L332.77,88.31 L333.42,89.08 L334.08,89.84 L334.73,90.61 L335.37,91.39 L336.01,92.16 L336.65,92.94 L337.28,93.73 L337.91,94.51 L338.53,95.30 L339.15,96.09 L339.76,96.89 L340.37,97.69 L340.98,98.49 L341.58,99.29 L342.18,100.10 L342.77,100.91 L343.36,101.72 L343.94,102.54 L344.52,103.36 L345.10,104.18 L345.67,105.00 L346.23,105.83 L346.80,106.66 L347.35,107.49 L347.91,108.33 L348.46,109.17 L349.00,110.01 L349.54,110.85 L350.08,111.70 L350.61,112.55 L351.14,113.40 L351.66,114.25 L352.18,115.11 L352.69,115.97 L353.20,116.83 L353.71,117.70 L354.21,118.56 L354.71,119.43 L355.20,120.30 L355.69,121.18 L356.17,122.05 L356.65,122.93 L357.12,123.81 L357.59,124.69 L358.06,125.58 L358.52,126.47 L358.98,127.35 L359.43,128.25 L359.88,129.14 L360.33,130.04 L360.77,130.93 L361.20,131.83 L361.64,132.74 L362.06,133.64 L362.49,134.55 L362.91,135.45 L363.32,136.36 L363.73,137.27 L364.14,138.19 L364.54,139.10 L364.94,140.02 L365.34,140.93 L365.74,141.85 L366.13,142.77 L366.51,143.70 L366.90,144.62 L367.28,145.54 L367.66,146.47 L368.03,147.40 L368.40,148.32 L368.77,149.25 L369.14,150.18 L369.51,151.12 L369.87,152.05 L370.23,152.98 L370.59,153.91 L370.94,154.85 L371.30,155.78 L371.65,156.72 L372.00,157.66 L372.35,158.59 L372.69,159.53 L373.03,160.47 L373.38,161.41 L373.72,162.35 L374.05,163.29 L374.39,164.23 L374.72,165.18 L375.06,166.12 L375.39,167.06 L375.72,168.01 L376.04,168.95 L376.37,169.90 L376.69,170.84 L377.01,171.79 L377.33,172.74 L377.65,173.68 L377.96,174.63 L378.28,175.58 L378.59,176.53 L378.90,177.48 L379.21,178.43 L379.52,179.38 L379.82,180.33 L380.13,181.29 L380.43,182.24 L380.73,183.19 L381.03,184.15 L381.33,185.10 L381.63,186.06 L381.92,187.01 L382.21,187.97 L382.50,188.92 L382.79,189.88 L383.08,190.84 L383.37,191.80 L383.66,192.75 L383.94,193.71 L384.22,194.67 L384.50,195.63 L384.78,196.59 L385.06,197.55 L385.34,198.51 L385.61,199.48 L385.89,200.44 L386.16,201.40 L386.43,202.36 L386.70,203.33 L386.97,204.29 L387.24,205.25 L387.51,206.22 L387.77,207.18 L388.04,208.15 L388.30,209.11 L388.56,210.08 L388.82,211.05 L389.08,212.01 L389.34,212.98 L389.59,213.95 L389.85,214.91 L390.10,215.88 L390.36,216.85 L390.61,217.82 L390.86,218.79 L391.11,219.76 L391.36,220.73 L391.61,221.70 L391.86,222.67 L392.10,223.64 L392.35,224.61 L392.59,225.58 L392.83,226.55 L393.08,227.52 L393.32,228.49 L393.56,229.47 L393.80,230.44 L394.04,231.41 L394.27,232.38 L394.51,233.36 L394.75,234.33 L394.98,235.30 L395.22,236.28 L395.45,237.25 L395.68,238.22 L395.91,239.20 L396.15,240.17 L396.38,241.15 L396.61,242.12 L396.83,243.10 L397.06,244.07 L397.29,245.04 L397.52,246.02 L397.74,247.00 L397.97,247.97 L398.19,248.95 L398.42,249.92 L398.64,250.90 L398.86,251.87 L399.09,252.85 L399.31,253.83 L399.53,254.80 L399.75,255.78 L399.97,256.75 L400.19,257.73 L400.41,258.71 L400.63,259.68 L400.85,260.66 L401.07,261.64 L401.28,262.61 L401.50,263.59 L401.72,264.57 L401.93,265.54 L402.15,266.52 L402.36,267.50 L402.58,268.47 L402.79,269.45 L403.01,270.43 L403.22,271.40 L403.43,272.38 L403.65,273.36 L403.86,274.34 L404.07,275.31 L404.28,276.29 L404.49,277.27 L404.70,278.24 L404.91,279.22 L405.12,280.20 L405.33,281.18 L405.54,282.15 L405.75,283.13 L405.96,284.11 L406.16,285.09 L406.37,286.07 L406.58,287.04 L406.78,288.02 L406.99,289.00 L407.19,289.98 L407.40,290.96 L407.60,291.93 L407.81,292.91 L408.01,293.89 L408.22,294.87 L408.42,295.85 L408.62,296.83 L408.82,297.81 L409.02,298.78 L409.23,299.76 L409.43,300.74 L409.63,301.72 L409.83,302.70 L410.03,303.68 L410.23,304.66 L410.43,305.64 L410.62,306.62 L410.82,307.60 L411.02,308.58 L411.22,309.56 L411.42,310.53 L411.61,311.51 L411.81,312.49 L412.00,313.47 L412.20,314.45 L412.40,315.43 L412.59,316.41 L412.78,317.39 L412.98,318.38 L413.17,319.36 L413.37,320.34 L413.56,321.32 L413.75,322.30 L413.94,323.28 L414.14,324.26 L414.33,325.24 L414.52,326.22 L414.71,327.20 L414.90,328.18 L415.09,329.16 L415.28,330.15 L415.47,331.13 L415.66,332.11 L415.85,333.09 L416.04,334.07 L416.23,335.05 L416.42,336.03 L416.61,337.02 L416.79,338.00 L416.98,338.98 L417.17,339.96 L417.36,340.94 L417.54,341.92 L417.73,342.91 L417.92,343.89 L418.10,344.87 L418.29,345.85 L418.48,346.83 L418.66,347.82 L418.85,348.80 L419.04,349.78 L419.22,350.76 L419.41,351.75 L419.59,352.73 L419.78,353.71 L419.96,354.69 L420.15,355.68 L420.33,356.66 L420.52,357.64 L420.71,358.62 L420.89,359.61 L421.08,360.59 L421.26,361.57 L421.45,362.55 L421.63,363.54 L421.82,364.52 L422.00,365.50" fill="none" stroke="#FF0000" stroke-width="2"/>
<polygon points="108.0,118.9 111.2,124.1 104.8,124.1" fill="#FF0000"/>
<polygon points="132.5,85.4 135.7,90.6 129.3,90.6" fill="#FF0000"/>
<polygon points="170.4,60.5 173.6,65.7 167.2,65.7" fill="#FF0000"/>
<polygon points="204.2,44.2 207.4,49.4 201.0,49.4" fill="#FF0000"/>
<polygon points="236.9,38.2 240.1,43.4 233.7,43.4" fill="#FF0000"/>
<polygon points="271.5,46.1 274.7,51.3 268.3,51.3" fill="#FF0000"/>
<polygon points="292.6,52.9 295.8,58.1 289.4,58.1" fill="#FF0000"/>
<polygon points="322.4,74.2 325.6,79.4 319.2,79.4" fill="#FF0000"/>
<polygon points="371.0,151.9 374.2,157.1 367.8,157.1" fill="#FF0000"/>
<polygon points="422.0,362.4 425.2,367.6 418.8,367.6" fill="#FF0000"/>
<path d="M110.50,181.50 L111.17,181.56 L111.83,181.62 L112.50,181.69 L113.16,181.75 L113.83,181.81 L114.50,181.87 L115.16,181.94 L115.83,182.00 L116.49,182.07 L117.16,182.13 L117.83,182.20 L118.49,182.26 L119.16,182.33 L119.82,182.40 L120.49,182.47 L121.16,182.54 L121.82,182.61 L122.49,182.68 L123.15,182.76 L123.82,182.83 L124.48,182.91 L125.15,182.99 L125.82,183.07 L126.48,183.15 L127.15,183.24 L127.81,183.32 L128.48,183.41 L129.15,183.50 L129.81,183.59 L130.48,183.68 L131.14,183.78 L131.81,183.88 L132.48,183.98 L133.14,184.08 L133.81,184.18 L134.47,184.29 L135.14,184.40 L135.81,184.51 L136.47,184.62 L137.14,184.74 L137.80,184.86 L138.47,184.98 L139.14,185.10 L139.80,185.23 L140.47,185.35 L141.13,185.48 L141.80,185.62 L142.47,185.75 L143.13,185.89 L143.80,186.03 L144.46,186.17 L145.13,186.32 L145.79,186.46 L146.46,186.61 L147.13,186.76 L147.79,186.92 L148.46,187.08 L149.12,187.24 L149.79,187.40 L150.46,187.56 L151.12,187.73 L151.79,187.90 L152.45,188.07 L153.12,188.25 L153.79,188.43 L154.45,188.61 L155.12,188.79 L155.78,188.97 L156.45,189.16 L157.12,189.35 L157.78,189.55 L158.45,189.74 L159.11,189.94 L159.78,190.14 L160.45,190.35 L161.11,190.56 L161.78,190.77 L162.44,190.98 L163.11,191.19 L163.78,191.41 L164.44,191.63 L165.11,191.86 L165.77,192.08 L166.44,192.31 L167.10,192.54 L167.77,192.77 L168.44,193.01 L169.10,193.25 L169.77,193.49 L170.43,193.73 L171.10,193.98 L171.77,194.23 L172.43,194.48 L173.10,194.74 L173.76,194.99 L174.43,195.25 L175.10,195.51 L175.76,195.78 L176.43,196.04 L177.09,196.31 L177.76,196.58 L178.43,196.86 L179.09,197.13 L179.76,197.41 L180.42,197.69 L181.09,197.98 L181.76,198.26 L182.42,198.55 L183.09,198.84 L183.75,199.14 L184.42,199.43 L185.09,199.73 L185.75,200.03 L186.42,200.33 L187.08,200.64 L187.75,200.94 L188.41,201.25 L189.08,201.56 L189.75,201.88 L190.41,202.19 L191.08,202.51 L191.74,202.83 L192.41,203.16 L193.08,203.48 L193.74,203.81 L194.41,204.14 L195.07,204.47 L195.74,204.80 L196.41,205.14 L197.07,205.48 L197.74,205.82 L198.40,206.16 L199.07,206.50 L199.74,206.85 L200.40,207.20 L201.07,207.55 L201.73,207.90 L202.40,208.25 L203.07,208.61 L203.73,208.96 L204.40,209.32 L205.06,209.68 L205.73,210.05 L206.40,210.41 L207.06,210.77 L207.73,211.14 L208.39,211.51 L209.06,211.88 L209.72,212.25 L210.39,212.62 L211.06,213.00 L211.72,213.37 L212.39,213.75 L213.05,214.13 L213.72,214.51 L214.39,214.89 L215.05,215.27 L215.72,215.65 L216.38,216.04 L217.05,216.42 L217.72,216.81 L218.38,217.20 L219.05,217.59 L219.71,217.98 L220.38,218.37 L221.05,218.76 L221.71,219.15 L222.38,219.55 L223.04,219.94 L223.71,220.34 L224.38,220.73 L225.04,221.13 L225.71,221.53 L226.37,221.93 L227.04,222.33 L227.71,222.73 L228.37,223.13 L229.04,223.53 L229.70,223.93 L230.37,224.33 L231.03,224.74 L231.70,225.14 L232.37,225.55 L233.03,225.96 L233.70,226.36 L234.36,226.77 L235.03,227.18 L235.70,227.59 L236.36,228.00 L237.03,228.41 L237.69,228.82 L238.36,229.23 L239.03,229.64 L239.69,230.05 L240.36,230.47 L241.02,230.88 L241.69,231.30 L242.36,231.71 L243.02,232.13 L243.69,232.54 L244.35,232.96 L245.02,233.38 L245.69,233.79 L246.35,234.21 L247.02,234.63 L247.68,235.05 L248.35,235.47 L249.02,235.89 L249.68,236.31 L250.35,236.73 L251.01,237.15 L251.68,237.57 L252.34,237.99 L253.01,238.42 L253.68,238.84 L254.34,239.26 L255.01,239.69 L255.67,240.11 L256.34,240.53 L257.01,240.96 L257.67,241.39 L258.34,241.81 L259.00,242.24 L259.67,242.67 L260.34,243.10 L261.00,243.53 L261.67,243.96 L262.33,244.40 L263.00,244.83 L263.67,245.27 L264.33,245.71 L265.00,246.15 L265.66,246.59 L266.33,247.04 L267.00,247.48 L267.66,247.93 L268.33,248.38 L268.99,248.83 L269.66,249.29 L270.33,249.74 L270.99,250.20 L271.66,250.67 L272.32,251.13 L272.99,251.60 L273.66,252.07 L274.32,252.54 L274.99,253.02 L275.65,253.50 L276.32,253.98 L276.98,254.46 L277.65,254.95 L278.32,255.44 L278.98,255.94 L279.65,256.43 L280.31,256.93 L280.98,257.44 L281.65,257.95 L282.31,258.46 L282.98,258.97 L283.64,259.48 L284.31,260.00 L284.98,260.52 L285.64,261.05 L286.31,261.58 L286.97,262.11 L287.64,262.64 L288.31,263.17 L288.97,263.71 L289.64,264.25 L290.30,264.80 L290.97,265.34 L291.64,265.89 L292.30,266.44 L292.97,266.99 L293.63,267.55 L294.30,268.11 L294.97,268.67 L295.63,269.23 L296.30,269.80 L296.96,270.36 L297.63,270.93 L298.29,271.51 L298.96,272.08 L299.63,272.66 L300.29,273.23 L300.96,273.82 L301.62,274.40 L302.29,274.98 L302.96,275.57 L303.62,276.16 L304.29,276.75 L304.95,277.34 L305.62,277.93 L306.29,278.53 L306.95,279.13 L307.62,279.72 L308.28,280.33 L308.95,280.93 L309.62,281.53 L310.28,282.14 L310.95,282.75 L311.61,283.35 L312.28,283.97 L312.95,284.58 L313.61,285.19 L314.28,285.81 L314.94,286.43 L315.61,287.05 L316.28,287.67 L316.94,288.29 L317.61,288.92 L318.27,289.54 L318.94,290.17 L319.60,290.81 L320.27,291.44 L320.94,292.08 L321.60,292.71 L322.27,293.35 L322.93,294.00 L323.60,294.64 L324.27,295.29 L324.93,295.94 L325.60,296.59 L326.26,297.25 L326.93,297.90 L327.60,298.56 L328.26,299.22 L328.93,299.89 L329.59,300.56 L330.26,301.23 L330.93,301.90 L331.59,302.57 L332.26,303.25 L332.92,303.93 L333.59,304.62 L334.26,305.30 L334.92,305.99 L335.59,306.69 L336.25,307.38 L336.92,308.08 L337.59,308.78 L338.25,309.49 L338.92,310.20 L339.58,310.91 L340.25,311.62 L340.91,312.34 L341.58,313.06 L342.25,313.79 L342.91,314.51 L343.58,315.24 L344.24,315.98 L344.91,316.72 L345.58,317.46 L346.24,318.20 L346.91,318.95 L347.57,319.70 L348.24,320.46 L348.91,321.22 L349.57,321.98 L350.24,322.75 L350.90,323.52 L351.57,324.30 L352.24,325.08 L352.90,325.86 L353.57,326.64 L354.23,327.43 L354.90,328.23 L355.57,329.03 L356.23,329.83 L356.90,330.64 L357.56,331.45 L358.23,332.26 L358.90,333.08 L359.56,333.91 L360.23,334.73 L360.89,335.57 L361.56,336.40 L362.22,337.24 L362.89,338.09 L363.56,338.94 L364.22,339.79 L364.89,340.65 L365.55,341.51 L366.22,342.37 L366.89,343.24 L367.55,344.12 L368.22,344.99 L368.88,345.87 L369.55,346.76 L370.22,347.64 L370.88,348.54 L371.55,349.43 L372.21,350.33 L372.88,351.23 L373.55,352.13 L374.21,353.04 L374.88,353.95 L375.54,354.87 L376.21,355.79 L376.88,356.71 L377.54,357.63 L378.21,358.56 L378.87,359.49 L379.54,360.42 L380.21,361.35 L380.87,362.29 L381.54,363.23 L382.20,364.18 L382.87,365.12 L383.53,366.07 L384.20,367.02 L384.87,367.98 L385.53,368.93 L386.20,369.89 L386.86,370.85 L387.53,371.82 L388.20,372.78 L388.86,373.75 L389.53,374.72 L390.19,375.69 L390.86,376.66 L391.53,377.64 L392.19,378.61 L392.86,379.59 L393.52,380.58 L394.19,381.56 L394.86,382.54 L395.52,383.53 L396.19,384.52 L396.85,385.50 L397.52,386.49 L398.19,387.49 L398.85,388.48 L399.52,389.47 L400.18,390.47 L400.85,391.47 L401.52,392.47 L402.18,393.46 L402.85,394.47 L403.51,395.47 L404.18,396.47 L404.84,397.47 L405.51,398.48 L406.18,399.48 L406.84,400.49 L407.51,401.49 L408.17,402.50 L408.84,403.51 L409.51,404.51 L410.17,405.52 L410.84,406.53 L411.50,407.54 L412.17,408.55 L412.84,409.56 L413.50,410.57 L414.17,411.58 L414.83,412.59 L415.50,413.60" fill="none" stroke="#000000" stroke-width="2.4" stroke-linecap="round" stroke-dasharray="0.01 5.25"/>
<circle cx="110.5" cy="181.5" r="2.70" fill="#000000"/>
<circle cx="130.6" cy="183.7" r="2.70" fill="#000000"/>
<circle cx="158.3" cy="189.7" r="2.70" fill="#000000"/>
<circle cx="192.5" cy="203.2" r="2.70" fill="#000000"/>
<circle cx="222.3" cy="219.5" r="2.70" fill="#000000"/>
<circle cx="253.3" cy="238.6" r="2.70" fill="#000000"/>
<circle cx="276.9" cy="254.4" r="2.70" fill="#000000"/>
<circle cx="309.8" cy="281.7" r="2.70" fill="#000000"/>
<circle cx="360.2" cy="334.7" r="2.70" fill="#000000"/>
<circle cx="415.5" cy="413.6" r="2.70" fill="#000000"/>
<path d="M108.30,176.00 L108.97,176.12 L109.63,176.25 L110.30,176.37 L110.96,176.50 L111.63,176.62 L112.29,176.75 L112.96,176.87 L113.62,177.00 L114.29,177.12 L114.95,177.25 L115.62,177.37 L116.28,177.50 L116.95,177.62 L117.61,177.75 L118.28,177.88 L118.94,178.00 L119.61,178.13 L120.28,178.26 L120.94,178.39 L121.61,178.51 L122.27,178.64 L122.94,178.77 L123.60,178.90 L124.27,179.03 L124.93,179.16 L125.60,179.29 L126.26,179.42 L126.93,179.56 L127.59,179.69 L128.26,179.82 L128.92,179.96 L129.59,180.09 L130.25,180.22 L130.92,180.36 L131.59,180.50 L132.25,180.63 L132.92,180.77 L133.58,180.91 L134.25,181.05 L134.91,181.19 L135.58,181.33 L136.24,181.47 L136.91,181.62 L137.57,181.76 L138.24,181.91 L138.90,182.05 L139.57,182.20 L140.23,182.35 L140.90,182.50 L141.57,182.65 L142.23,182.80 L142.90,182.96 L143.56,183.11 L144.23,183.27 L144.89,183.43 L145.56,183.58 L146.22,183.75 L146.89,183.91 L147.55,184.07 L148.22,184.24 L148.88,184.40 L149.55,184.57 L150.21,184.74 L150.88,184.91 L151.54,185.09 L152.21,185.26 L152.88,185.44 L153.54,185.62 L154.21,185.80 L154.87,185.98 L155.54,186.17 L156.20,186.36 L156.87,186.55 L157.53,186.74 L158.20,186.93 L158.86,187.13 L159.53,187.32 L160.19,187.52 L160.86,187.73 L161.52,187.93 L162.19,188.14 L162.85,188.35 L163.52,188.56 L164.19,188.77 L164.85,188.99 L165.52,189.21 L166.18,189.43 L166.85,189.65 L167.51,189.87 L168.18,190.10 L168.84,190.33 L169.51,190.56 L170.17,190.79 L170.84,191.03 L171.50,191.27 L172.17,191.51 L172.83,191.75 L173.50,191.99 L174.16,192.24 L174.83,192.49 L175.50,192.74 L176.16,192.99 L176.83,193.24 L177.49,193.50 L178.16,193.75 L178.82,194.01 L179.49,194.27 L180.15,194.54 L180.82,194.80 L181.48,195.07 L182.15,195.34 L182.81,195.61 L183.48,195.88 L184.14,196.15 L184.81,196.43 L185.47,196.71 L186.14,196.99 L186.81,197.27 L187.47,197.55 L188.14,197.83 L188.80,198.12 L189.47,198.41 L190.13,198.69 L190.80,198.99 L191.46,199.28 L192.13,199.57 L192.79,199.87 L193.46,200.16 L194.12,200.46 L194.79,200.76 L195.45,201.06 L196.12,201.37 L196.79,201.67 L197.45,201.98 L198.12,202.28 L198.78,202.59 L199.45,202.90 L200.11,203.21 L200.78,203.53 L201.44,203.84 L202.11,204.15 L202.77,204.47 L203.44,204.79 L204.10,205.11 L204.77,205.43 L205.43,205.76 L206.10,206.08 L206.76,206.41 L207.43,206.74 L208.10,207.06 L208.76,207.40 L209.43,207.73 L210.09,208.06 L210.76,208.40 L211.42,208.74 L212.09,209.08 L212.75,209.42 L213.42,209.76 L214.08,210.11 L214.75,210.46 L215.41,210.81 L216.08,211.16 L216.74,211.51 L217.41,211.87 L218.07,212.22 L218.74,212.58 L219.41,212.94 L220.07,213.31 L220.74,213.67 L221.40,214.04 L222.07,214.41 L222.73,214.78 L223.40,215.15 L224.06,215.53 L224.73,215.90 L225.39,216.28 L226.06,216.67 L226.72,217.05 L227.39,217.44 L228.05,217.83 L228.72,218.22 L229.38,218.61 L230.05,219.01 L230.72,219.40 L231.38,219.80 L232.05,220.21 L232.71,220.61 L233.38,221.02 L234.04,221.42 L234.71,221.83 L235.37,222.25 L236.04,222.66 L236.70,223.08 L237.37,223.49 L238.03,223.91 L238.70,224.33 L239.36,224.76 L240.03,225.18 L240.70,225.61 L241.36,226.03 L242.03,226.46 L242.69,226.89 L243.36,227.32 L244.02,227.75 L244.69,228.19 L245.35,228.62 L246.02,229.06 L246.68,229.49 L247.35,229.93 L248.01,230.37 L248.68,230.81 L249.34,231.25 L250.01,231.69 L250.67,232.13 L251.34,232.57 L252.01,233.02 L252.67,233.46 L253.34,233.90 L254.00,234.35 L254.67,234.79 L255.33,235.24 L256.00,235.68 L256.66,236.13 L257.33,236.58 L257.99,237.02 L258.66,237.47 L259.32,237.91 L259.99,238.36 L260.65,238.81 L261.32,239.25 L261.98,239.70 L262.65,240.14 L263.32,240.59 L263.98,241.04 L264.65,241.49 L265.31,241.93 L265.98,242.38 L266.64,242.83 L267.31,243.28 L267.97,243.74 L268.64,244.19 L269.30,244.64 L269.97,245.10 L270.63,245.55 L271.30,246.01 L271.96,246.47 L272.63,246.93 L273.29,247.40 L273.96,247.86 L274.63,248.33 L275.29,248.80 L275.96,249.27 L276.62,249.74 L277.29,250.21 L277.95,250.69 L278.62,251.17 L279.28,251.65 L279.95,252.14 L280.61,252.63 L281.28,253.12 L281.94,253.61 L282.61,254.11 L283.27,254.61 L283.94,255.11 L284.60,255.61 L285.27,256.12 L285.94,256.63 L286.60,257.15 L287.27,257.67 L287.93,258.19 L288.60,258.71 L289.26,259.24 L289.93,259.77 L290.59,260.30 L291.26,260.83 L291.92,261.37 L292.59,261.91 L293.25,262.45 L293.92,263.00 L294.58,263.55 L295.25,264.10 L295.92,264.65 L296.58,265.21 L297.25,265.77 L297.91,266.33 L298.58,266.89 L299.24,267.46 L299.91,268.03 L300.57,268.60 L301.24,269.18 L301.90,269.75 L302.57,270.33 L303.23,270.91 L303.90,271.50 L304.56,272.08 L305.23,272.67 L305.89,273.26 L306.56,273.85 L307.23,274.45 L307.89,275.05 L308.56,275.65 L309.22,276.25 L309.89,276.85 L310.55,277.46 L311.22,278.07 L311.88,278.68 L312.55,279.29 L313.21,279.91 L313.88,280.52 L314.54,281.14 L315.21,281.76 L315.87,282.38 L316.54,283.01 L317.20,283.64 L317.87,284.26 L318.54,284.89 L319.20,285.53 L319.87,286.16 L320.53,286.80 L321.20,287.44 L321.86,288.08 L322.53,288.73 L323.19,289.38 L323.86,290.03 L324.52,290.68 L325.19,291.33 L325.85,291.99 L326.52,292.65 L327.18,293.31 L327.85,293.98 L328.51,294.64 L329.18,295.31 L329.85,295.99 L330.51,296.66 L331.18,297.34 L331.84,298.02 L332.51,298.71 L333.17,299.40 L333.84,300.09 L334.50,300.78 L335.17,301.48 L335.83,302.18 L336.50,302.88 L337.16,303.58 L337.83,304.29 L338.49,305.01 L339.16,305.72 L339.82,306.44 L340.49,307.16 L341.16,307.89 L341.82,308.62 L342.49,309.35 L343.15,310.09 L343.82,310.82 L344.48,311.57 L345.15,312.31 L345.81,313.06 L346.48,313.82 L347.14,314.58 L347.81,315.34 L348.47,316.10 L349.14,316.87 L349.80,317.64 L350.47,318.42 L351.14,319.20 L351.80,319.98 L352.47,320.77 L353.13,321.57 L353.80,322.36 L354.46,323.16 L355.13,323.97 L355.79,324.78 L356.46,325.59 L357.12,326.41 L357.79,327.23 L358.45,328.05 L359.12,328.88 L359.78,329.72 L360.45,330.56 L361.11,331.40 L361.78,332.25 L362.45,333.10 L363.11,333.96 L363.78,334.82 L364.44,335.68 L365.11,336.55 L365.77,337.43 L366.44,338.31 L367.10,339.19 L367.77,340.08 L368.43,340.97 L369.10,341.87 L369.76,342.77 L370.43,343.67 L371.09,344.58 L371.76,345.49 L372.42,346.41 L373.09,347.33 L373.76,348.25 L374.42,349.18 L375.09,350.11 L375.75,351.04 L376.42,351.98 L377.08,352.92 L377.75,353.87 L378.41,354.81 L379.08,355.77 L379.74,356.72 L380.41,357.68 L381.07,358.64 L381.74,359.60 L382.40,360.57 L383.07,361.54 L383.73,362.51 L384.40,363.49 L385.07,364.47 L385.73,365.45 L386.40,366.43 L387.06,367.42 L387.73,368.41 L388.39,369.40 L389.06,370.39 L389.72,371.39 L390.39,372.39 L391.05,373.39 L391.72,374.39 L392.38,375.40 L393.05,376.41 L393.71,377.42 L394.38,378.43 L395.05,379.44 L395.71,380.46 L396.38,381.47 L397.04,382.49 L397.71,383.51 L398.37,384.54 L399.04,385.56 L399.70,386.59 L400.37,387.61 L401.03,388.64 L401.70,389.67 L402.36,390.70 L403.03,391.73 L403.69,392.77 L404.36,393.80 L405.02,394.84 L405.69,395.87 L406.36,396.91 L407.02,397.95 L407.69,398.99 L408.35,400.03 L409.02,401.07 L409.68,402.11 L410.35,403.16 L411.01,404.20 L411.68,405.24 L412.34,406.29 L413.01,407.33 L413.67,408.37 L414.34,409.42 L415.00,410.46 L415.67,411.51 L416.33,412.55 L417.00,413.60" fill="none" stroke="#FFB400" stroke-width="2" stroke-dasharray="4.3 4.5"/>
<polygon points="108.3,172.9 111.5,178.1 105.1,178.1" fill="#FFB400"/>
<polygon points="131.6,177.4 134.8,182.6 128.4,182.6" fill="#FFB400"/>
<polygon points="161.1,184.7 164.3,189.9 157.9,189.9" fill="#FFB400"/>
<polygon points="198.8,199.5 202.0,204.7 195.6,204.7" fill="#FFB400"/>
<polygon points="229.2,215.4 232.4,220.6 226.0,220.6" fill="#FFB400"/>
<polygon points="259.9,235.2 263.1,240.4 256.7,240.4" fill="#FFB400"/>
<polygon points="282.6,251.0 285.8,256.2 279.4,256.2" fill="#FFB400"/>
<polygon points="314.5,278.0 317.7,283.2 311.3,283.2" fill="#FFB400"/>
<polygon points="363.3,331.1 366.5,336.3 360.1,336.3" fill="#FFB400"/>
<polygon points="417.0,410.5 420.2,415.7 413.8,415.7" fill="#FFB400"/>
<path d="M106.40,177.30 L107.07,177.29 L107.73,177.28 L108.40,177.27 L109.06,177.26 L109.73,177.25 L110.40,177.24 L111.06,177.23 L111.73,177.23 L112.40,177.22 L113.06,177.22 L113.73,177.21 L114.39,177.21 L115.06,177.21 L115.73,177.21 L116.39,177.21 L117.06,177.21 L117.72,177.22 L118.39,177.22 L119.06,177.23 L119.72,177.24 L120.39,177.26 L121.06,177.27 L121.72,177.29 L122.39,177.31 L123.05,177.33 L123.72,177.36 L124.39,177.39 L125.05,177.42 L125.72,177.45 L126.39,177.49 L127.05,177.53 L127.72,177.57 L128.38,177.62 L129.05,177.67 L129.72,177.73 L130.38,177.79 L131.05,177.85 L131.71,177.92 L132.38,177.99 L133.05,178.07 L133.71,178.14 L134.38,178.23 L135.05,178.31 L135.71,178.40 L136.38,178.50 L137.04,178.60 L137.71,178.70 L138.38,178.80 L139.04,178.91 L139.71,179.02 L140.37,179.14 L141.04,179.26 L141.71,179.38 L142.37,179.51 L143.04,179.64 L143.71,179.77 L144.37,179.91 L145.04,180.05 L145.70,180.20 L146.37,180.34 L147.04,180.49 L147.70,180.65 L148.37,180.80 L149.03,180.96 L149.70,181.13 L150.37,181.29 L151.03,181.46 L151.70,181.64 L152.37,181.81 L153.03,181.99 L153.70,182.17 L154.36,182.36 L155.03,182.55 L155.70,182.74 L156.36,182.93 L157.03,183.13 L157.70,183.33 L158.36,183.53 L159.03,183.73 L159.69,183.94 L160.36,184.15 L161.03,184.37 L161.69,184.58 L162.36,184.80 L163.02,185.02 L163.69,185.25 L164.36,185.47 L165.02,185.70 L165.69,185.93 L166.36,186.17 L167.02,186.40 L167.69,186.64 L168.35,186.88 L169.02,187.13 L169.69,187.37 L170.35,187.62 L171.02,187.87 L171.68,188.13 L172.35,188.38 L173.02,188.64 L173.68,188.90 L174.35,189.16 L175.02,189.42 L175.68,189.69 L176.35,189.96 L177.01,190.23 L177.68,190.50 L178.35,190.77 L179.01,191.05 L179.68,191.33 L180.34,191.61 L181.01,191.89 L181.68,192.17 L182.34,192.46 L183.01,192.75 L183.68,193.04 L184.34,193.33 L185.01,193.62 L185.67,193.92 L186.34,194.22 L187.01,194.52 L187.67,194.82 L188.34,195.13 L189.01,195.43 L189.67,195.74 L190.34,196.05 L191.00,196.36 L191.67,196.67 L192.34,196.99 L193.00,197.31 L193.67,197.63 L194.33,197.95 L195.00,198.27 L195.67,198.59 L196.33,198.92 L197.00,199.25 L197.67,199.58 L198.33,199.91 L199.00,200.24 L199.66,200.58 L200.33,200.92 L201.00,201.26 L201.66,201.60 L202.33,201.94 L202.99,202.28 L203.66,202.63 L204.33,202.98 L204.99,203.33 L205.66,203.68 L206.33,204.03 L206.99,204.38 L207.66,204.74 L208.32,205.10 L208.99,205.46 L209.66,205.82 L210.32,206.18 L210.99,206.55 L211.65,206.91 L212.32,207.28 L212.99,207.65 L213.65,208.02 L214.32,208.39 L214.99,208.76 L215.65,209.14 L216.32,209.52 L216.98,209.89 L217.65,210.27 L218.32,210.65 L218.98,211.03 L219.65,211.42 L220.32,211.80 L220.98,212.18 L221.65,212.57 L222.31,212.95 L222.98,213.34 L223.65,213.73 L224.31,214.12 L224.98,214.50 L225.64,214.89 L226.31,215.28 L226.98,215.67 L227.64,216.06 L228.31,216.45 L228.98,216.84 L229.64,217.23 L230.31,217.63 L230.97,218.02 L231.64,218.41 L232.31,218.80 L232.97,219.19 L233.64,219.58 L234.30,219.97 L234.97,220.36 L235.64,220.75 L236.30,221.14 L236.97,221.53 L237.64,221.91 L238.30,222.30 L238.97,222.69 L239.63,223.07 L240.30,223.46 L240.97,223.84 L241.63,224.23 L242.30,224.61 L242.96,225.00 L243.63,225.38 L244.30,225.77 L244.96,226.15 L245.63,226.53 L246.30,226.92 L246.96,227.30 L247.63,227.69 L248.29,228.07 L248.96,228.46 L249.63,228.85 L250.29,229.23 L250.96,229.62 L251.63,230.01 L252.29,230.40 L252.96,230.79 L253.62,231.18 L254.29,231.58 L254.96,231.97 L255.62,232.37 L256.29,232.76 L256.95,233.16 L257.62,233.56 L258.29,233.96 L258.95,234.37 L259.62,234.77 L260.29,235.18 L260.95,235.59 L261.62,236.00 L262.28,236.41 L262.95,236.83 L263.62,237.24 L264.28,237.66 L264.95,238.08 L265.61,238.51 L266.28,238.94 L266.95,239.37 L267.61,239.80 L268.28,240.23 L268.95,240.67 L269.61,241.11 L270.28,241.56 L270.94,242.00 L271.61,242.45 L272.28,242.91 L272.94,243.36 L273.61,243.82 L274.27,244.28 L274.94,244.75 L275.61,245.21 L276.27,245.69 L276.94,246.16 L277.61,246.64 L278.27,247.12 L278.94,247.60 L279.60,248.09 L280.27,248.58 L280.94,249.08 L281.60,249.58 L282.27,250.08 L282.94,250.59 L283.60,251.10 L284.27,251.61 L284.93,252.13 L285.60,252.65 L286.27,253.18 L286.93,253.70 L287.60,254.24 L288.26,254.78 L288.93,255.32 L289.60,255.86 L290.26,256.41 L290.93,256.96 L291.60,257.52 L292.26,258.08 L292.93,258.64 L293.59,259.21 L294.26,259.78 L294.93,260.36 L295.59,260.93 L296.26,261.52 L296.92,262.10 L297.59,262.69 L298.26,263.28 L298.92,263.87 L299.59,264.46 L300.26,265.06 L300.92,265.66 L301.59,266.27 L302.25,266.87 L302.92,267.48 L303.59,268.09 L304.25,268.71 L304.92,269.32 L305.58,269.94 L306.25,270.56 L306.92,271.19 L307.58,271.81 L308.25,272.44 L308.92,273.06 L309.58,273.69 L310.25,274.33 L310.91,274.96 L311.58,275.59 L312.25,276.23 L312.91,276.87 L313.58,277.51 L314.25,278.15 L314.91,278.79 L315.58,279.43 L316.24,280.08 L316.91,280.72 L317.58,281.37 L318.24,282.01 L318.91,282.66 L319.57,283.31 L320.24,283.96 L320.91,284.61 L321.57,285.26 L322.24,285.92 L322.91,286.57 L323.57,287.23 L324.24,287.88 L324.90,288.54 L325.57,289.20 L326.24,289.87 L326.90,290.53 L327.57,291.19 L328.23,291.86 L328.90,292.53 L329.57,293.20 L330.23,293.87 L330.90,294.55 L331.57,295.22 L332.23,295.90 L332.90,296.58 L333.56,297.27 L334.23,297.95 L334.90,298.64 L335.56,299.33 L336.23,300.02 L336.89,300.71 L337.56,301.41 L338.23,302.11 L338.89,302.81 L339.56,303.52 L340.23,304.23 L340.89,304.94 L341.56,305.65 L342.22,306.37 L342.89,307.09 L343.56,307.81 L344.22,308.53 L344.89,309.26 L345.56,309.99 L346.22,310.73 L346.89,311.47 L347.55,312.21 L348.22,312.95 L348.89,313.70 L349.55,314.45 L350.22,315.21 L350.88,315.97 L351.55,316.73 L352.22,317.49 L352.88,318.27 L353.55,319.04 L354.22,319.82 L354.88,320.60 L355.55,321.38 L356.21,322.17 L356.88,322.97 L357.55,323.77 L358.21,324.57 L358.88,325.38 L359.54,326.19 L360.21,327.00 L360.88,327.82 L361.54,328.65 L362.21,329.48 L362.88,330.31 L363.54,331.15 L364.21,331.99 L364.87,332.84 L365.54,333.69 L366.21,334.55 L366.87,335.41 L367.54,336.28 L368.20,337.15 L368.87,338.03 L369.54,338.91 L370.20,339.80 L370.87,340.69 L371.54,341.58 L372.20,342.49 L372.87,343.39 L373.53,344.30 L374.20,345.21 L374.87,346.13 L375.53,347.05 L376.20,347.98 L376.87,348.91 L377.53,349.84 L378.20,350.78 L378.86,351.72 L379.53,352.67 L380.20,353.62 L380.86,354.57 L381.53,355.52 L382.19,356.48 L382.86,357.45 L383.53,358.42 L384.19,359.39 L384.86,360.36 L385.53,361.34 L386.19,362.32 L386.86,363.30 L387.52,364.29 L388.19,365.28 L388.86,366.27 L389.52,367.26 L390.19,368.26 L390.85,369.26 L391.52,370.26 L392.19,371.27 L392.85,372.28 L393.52,373.29 L394.19,374.30 L394.85,375.32 L395.52,376.34 L396.18,377.36 L396.85,378.38 L397.52,379.41 L398.18,380.43 L398.85,381.46 L399.51,382.49 L400.18,383.52 L400.85,384.56 L401.51,385.59 L402.18,386.63 L402.85,387.67 L403.51,388.71 L404.18,389.75 L404.84,390.80 L405.51,391.84 L406.18,392.89 L406.84,393.94 L407.51,394.99 L408.18,396.04 L408.84,397.09 L409.51,398.14 L410.17,399.19 L410.84,400.25 L411.51,401.30 L412.17,402.36 L412.84,403.41 L413.50,404.47 L414.17,405.53 L414.84,406.59 L415.50,407.64 L416.17,408.70 L416.84,409.76 L417.50,410.82 L418.17,411.88 L418.83,412.94 L419.50,414.00" fill="none" stroke="#02AC32" stroke-width="2" stroke-dasharray="10.7 5.4 1.6 6.5"/>
<polygon points="106.4,173.8 109.7,177.3 106.4,180.8 103.1,177.3" fill="#02AC32"/>
<polygon points="130.5,174.3 133.8,177.8 130.5,181.3 127.2,177.8" fill="#02AC32"/>
<polygon points="174.2,185.6 177.5,189.1 174.2,192.6 170.9,189.1" fill="#02AC32"/>
<polygon points="212.9,204.1 216.2,207.6 212.9,211.1 209.6,207.6" fill="#02AC32"/>
<polygon points="238.3,218.8 241.6,222.3 238.3,225.8 235.0,222.3" fill="#02AC32"/>
<polygon points="265.6,235.0 268.9,238.5 265.6,242.0 262.3,238.5" fill="#02AC32"/>
<polygon points="287.8,250.9 291.1,254.4 287.8,257.9 284.5,254.4" fill="#02AC32"/>
<polygon points="317.3,277.6 320.6,281.1 317.3,284.6 314.0,281.1" fill="#02AC32"/>
<polygon points="366.4,331.3 369.7,334.8 366.4,338.3 363.1,334.8" fill="#02AC32"/>
<polygon points="419.5,410.5 422.8,414.0 419.5,417.5 416.2,414.0" fill="#02AC32"/>
<path d="M108.40,170.20 L109.07,170.25 L109.73,170.31 L110.40,170.36 L111.06,170.41 L111.73,170.47 L112.40,170.52 L113.06,170.58 L113.73,170.63 L114.39,170.69 L115.06,170.75 L115.73,170.81 L116.39,170.87 L117.06,170.93 L117.72,170.99 L118.39,171.06 L119.06,171.12 L119.72,171.19 L120.39,171.26 L121.05,171.33 L121.72,171.40 L122.39,171.48 L123.05,171.55 L123.72,171.63 L124.38,171.71 L125.05,171.80 L125.72,171.88 L126.38,171.97 L127.05,172.07 L127.71,172.16 L128.38,172.26 L129.05,172.36 L129.71,172.46 L130.38,172.57 L131.05,172.68 L131.71,172.80 L132.38,172.91 L133.04,173.04 L133.71,173.16 L134.38,173.29 L135.04,173.42 L135.71,173.56 L136.37,173.70 L137.04,173.84 L137.71,173.98 L138.37,174.13 L139.04,174.28 L139.70,174.44 L140.37,174.60 L141.04,174.76 L141.70,174.92 L142.37,175.09 L143.03,175.26 L143.70,175.43 L144.37,175.61 L145.03,175.78 L145.70,175.97 L146.36,176.15 L147.03,176.33 L147.70,176.52 L148.36,176.71 L149.03,176.91 L149.69,177.10 L150.36,177.30 L151.03,177.50 L151.69,177.70 L152.36,177.90 L153.02,178.11 L153.69,178.32 L154.36,178.53 L155.02,178.74 L155.69,178.95 L156.35,179.17 L157.02,179.38 L157.69,179.60 L158.35,179.82 L159.02,180.04 L159.68,180.26 L160.35,180.49 L161.02,180.71 L161.68,180.94 L162.35,181.17 L163.01,181.40 L163.68,181.63 L164.35,181.86 L165.01,182.09 L165.68,182.32 L166.34,182.56 L167.01,182.79 L167.68,183.03 L168.34,183.27 L169.01,183.50 L169.67,183.74 L170.34,183.98 L171.01,184.22 L171.67,184.46 L172.34,184.70 L173.00,184.94 L173.67,185.18 L174.34,185.43 L175.00,185.67 L175.67,185.92 L176.34,186.17 L177.00,186.41 L177.67,186.66 L178.33,186.91 L179.00,187.17 L179.67,187.42 L180.33,187.68 L181.00,187.93 L181.66,188.19 L182.33,188.45 L183.00,188.71 L183.66,188.98 L184.33,189.24 L184.99,189.51 L185.66,189.78 L186.33,190.05 L186.99,190.32 L187.66,190.60 L188.32,190.87 L188.99,191.15 L189.66,191.43 L190.32,191.72 L190.99,192.00 L191.65,192.29 L192.32,192.58 L192.99,192.88 L193.65,193.17 L194.32,193.47 L194.98,193.78 L195.65,194.08 L196.32,194.39 L196.98,194.70 L197.65,195.01 L198.31,195.32 L198.98,195.64 L199.65,195.97 L200.31,196.29 L200.98,196.62 L201.64,196.95 L202.31,197.28 L202.98,197.62 L203.64,197.96 L204.31,198.31 L204.97,198.66 L205.64,199.01 L206.31,199.36 L206.97,199.72 L207.64,200.08 L208.30,200.44 L208.97,200.81 L209.64,201.18 L210.30,201.55 L210.97,201.93 L211.63,202.30 L212.30,202.68 L212.97,203.06 L213.63,203.45 L214.30,203.83 L214.96,204.22 L215.63,204.61 L216.30,205.00 L216.96,205.39 L217.63,205.78 L218.29,206.18 L218.96,206.57 L219.63,206.97 L220.29,207.37 L220.96,207.76 L221.63,208.16 L222.29,208.56 L222.96,208.96 L223.62,209.37 L224.29,209.77 L224.96,210.17 L225.62,210.57 L226.29,210.97 L226.95,211.37 L227.62,211.78 L228.29,212.18 L228.95,212.58 L229.62,212.98 L230.28,213.38 L230.95,213.78 L231.62,214.17 L232.28,214.57 L232.95,214.97 L233.61,215.36 L234.28,215.76 L234.95,216.15 L235.61,216.54 L236.28,216.93 L236.94,217.32 L237.61,217.70 L238.28,218.09 L238.94,218.47 L239.61,218.85 L240.27,219.23 L240.94,219.61 L241.61,219.99 L242.27,220.37 L242.94,220.75 L243.60,221.12 L244.27,221.50 L244.94,221.88 L245.60,222.25 L246.27,222.63 L246.93,223.00 L247.60,223.38 L248.27,223.76 L248.93,224.13 L249.60,224.51 L250.26,224.89 L250.93,225.27 L251.60,225.64 L252.26,226.02 L252.93,226.41 L253.59,226.79 L254.26,227.17 L254.93,227.56 L255.59,227.94 L256.26,228.33 L256.92,228.72 L257.59,229.12 L258.26,229.51 L258.92,229.91 L259.59,230.30 L260.25,230.70 L260.92,231.11 L261.59,231.51 L262.25,231.92 L262.92,232.33 L263.58,232.75 L264.25,233.17 L264.92,233.59 L265.58,234.01 L266.25,234.44 L266.92,234.87 L267.58,235.30 L268.25,235.74 L268.91,236.18 L269.58,236.63 L270.25,237.08 L270.91,237.53 L271.58,237.99 L272.24,238.45 L272.91,238.92 L273.58,239.39 L274.24,239.87 L274.91,240.35 L275.57,240.83 L276.24,241.32 L276.91,241.81 L277.57,242.31 L278.24,242.81 L278.90,243.31 L279.57,243.82 L280.24,244.33 L280.90,244.84 L281.57,245.36 L282.23,245.88 L282.90,246.40 L283.57,246.93 L284.23,247.46 L284.90,247.99 L285.56,248.53 L286.23,249.07 L286.90,249.61 L287.56,250.15 L288.23,250.70 L288.89,251.25 L289.56,251.80 L290.23,252.36 L290.89,252.91 L291.56,253.47 L292.22,254.04 L292.89,254.60 L293.56,255.17 L294.22,255.73 L294.89,256.31 L295.55,256.88 L296.22,257.45 L296.89,258.03 L297.55,258.61 L298.22,259.19 L298.88,259.77 L299.55,260.36 L300.22,260.95 L300.88,261.53 L301.55,262.12 L302.21,262.72 L302.88,263.31 L303.55,263.91 L304.21,264.51 L304.88,265.11 L305.54,265.71 L306.21,266.31 L306.88,266.92 L307.54,267.53 L308.21,268.13 L308.87,268.74 L309.54,269.36 L310.21,269.97 L310.87,270.59 L311.54,271.20 L312.21,271.82 L312.87,272.44 L313.54,273.06 L314.20,273.69 L314.87,274.31 L315.54,274.94 L316.20,275.57 L316.87,276.20 L317.53,276.83 L318.20,277.46 L318.87,278.09 L319.53,278.73 L320.20,279.36 L320.86,280.00 L321.53,280.64 L322.20,281.28 L322.86,281.92 L323.53,282.56 L324.19,283.20 L324.86,283.85 L325.53,284.49 L326.19,285.14 L326.86,285.79 L327.52,286.44 L328.19,287.10 L328.86,287.75 L329.52,288.41 L330.19,289.07 L330.85,289.73 L331.52,290.39 L332.19,291.06 L332.85,291.72 L333.52,292.39 L334.18,293.06 L334.85,293.74 L335.52,294.41 L336.18,295.09 L336.85,295.77 L337.51,296.46 L338.18,297.14 L338.85,297.83 L339.51,298.52 L340.18,299.22 L340.84,299.91 L341.51,300.61 L342.18,301.31 L342.84,302.02 L343.51,302.73 L344.17,303.44 L344.84,304.16 L345.51,304.87 L346.17,305.59 L346.84,306.32 L347.50,307.05 L348.17,307.78 L348.84,308.51 L349.50,309.25 L350.17,309.99 L350.83,310.74 L351.50,311.49 L352.17,312.24 L352.83,313.00 L353.50,313.76 L354.16,314.52 L354.83,315.29 L355.50,316.07 L356.16,316.84 L356.83,317.62 L357.50,318.41 L358.16,319.20 L358.83,319.99 L359.49,320.79 L360.16,321.59 L360.83,322.40 L361.49,323.21 L362.16,324.03 L362.82,324.85 L363.49,325.67 L364.16,326.50 L364.82,327.34 L365.49,328.18 L366.15,329.02 L366.82,329.87 L367.49,330.73 L368.15,331.59 L368.82,332.46 L369.48,333.33 L370.15,334.20 L370.82,335.08 L371.48,335.97 L372.15,336.86 L372.81,337.76 L373.48,338.66 L374.15,339.57 L374.81,340.48 L375.48,341.40 L376.14,342.32 L376.81,343.24 L377.48,344.17 L378.14,345.11 L378.81,346.05 L379.47,346.99 L380.14,347.94 L380.81,348.90 L381.47,349.85 L382.14,350.82 L382.80,351.78 L383.47,352.75 L384.14,353.73 L384.80,354.70 L385.47,355.69 L386.13,356.67 L386.80,357.66 L387.47,358.65 L388.13,359.65 L388.80,360.65 L389.46,361.65 L390.13,362.66 L390.80,363.67 L391.46,364.68 L392.13,365.70 L392.79,366.72 L393.46,367.74 L394.13,368.77 L394.79,369.80 L395.46,370.83 L396.12,371.86 L396.79,372.90 L397.46,373.94 L398.12,374.98 L398.79,376.02 L399.45,377.07 L400.12,378.12 L400.79,379.17 L401.45,380.22 L402.12,381.28 L402.79,382.34 L403.45,383.40 L404.12,384.46 L404.78,385.52 L405.45,386.59 L406.12,387.65 L406.78,388.72 L407.45,389.79 L408.11,390.87 L408.78,391.94 L409.45,393.01 L410.11,394.09 L410.78,395.17 L411.44,396.24 L412.11,397.32 L412.78,398.40 L413.44,399.49 L414.11,400.57 L414.77,401.65 L415.44,402.74 L416.11,403.82 L416.77,404.90 L417.44,405.99 L418.10,407.08 L418.77,408.16 L419.44,409.25 L420.10,410.34 L420.77,411.42 L421.43,412.51 L422.10,413.60" fill="none" stroke="#FF0000" stroke-width="2"/>
<rect x="105.9" y="167.7" width="5.0" height="5.0" fill="#FF0000"/>
<rect x="129.8" y="170.4" width="5.0" height="5.0" fill="#FF0000"/>
<rect x="166.5" y="181.0" width="5.0" height="5.0" fill="#FF0000"/>
<rect x="201.6" y="195.7" width="5.0" height="5.0" fill="#FF0000"/>
<rect x="233.9" y="214.5" width="5.0" height="5.0" fill="#FF0000"/>
<rect x="268.8" y="235.3" width="5.0" height="5.0" fill="#FF0000"/>
<rect x="289.8" y="251.6" width="5.0" height="5.0" fill="#FF0000"/>
<rect x="319.2" y="278.3" width="5.0" height="5.0" fill="#FF0000"/>
<rect x="367.8" y="331.9" width="5.0" height="5.0" fill="#FF0000"/>
<rect x="419.6" y="411.1" width="5.0" height="5.0" fill="#FF0000"/>
<rect x="68.6" y="18.2" width="400.0" height="465.8" fill="none" stroke="#000" stroke-width="1.6"/>
<line x1="68.6" y1="484.0" x2="74.1" y2="484.0" stroke="#000" stroke-width="1.6"/>
<line x1="468.6" y1="484.0" x2="463.1" y2="484.0" stroke="#000" stroke-width="1.6"/>
<line x1="68.6" y1="367.5" x2="74.1" y2="367.5" stroke="#000" stroke-width="1.6"/>
<line x1="468.6" y1="367.5" x2="463.1" y2="367.5" stroke="#000" stroke-width="1.6"/>
<line x1="68.6" y1="251.0" x2="74.1" y2="251.0" stroke="#000" stroke-width="1.6"/>
<line x1="468.6" y1="251.0" x2="463.1" y2="251.0" stroke="#000" stroke-width="1.6"/>
<line x1="68.6" y1="134.5" x2="74.1" y2="134.5" stroke="#000" stroke-width="1.6"/>
<line x1="468.6" y1="134.5" x2="463.1" y2="134.5" stroke="#000" stroke-width="1.6"/>
<line x1="68.6" y1="18.0" x2="74.1" y2="18.0" stroke="#000" stroke-width="1.6"/>
<line x1="468.6" y1="18.0" x2="463.1" y2="18.0" stroke="#000" stroke-width="1.6"/>
<line x1="68.6" y1="484.0" x2="68.6" y2="478.5" stroke="#000" stroke-width="1.6"/>
<line x1="168.6" y1="484.0" x2="168.6" y2="478.5" stroke="#000" stroke-width="1.6"/>
<line x1="268.6" y1="484.0" x2="268.6" y2="478.5" stroke="#000" stroke-width="1.6"/>
<line x1="368.6" y1="484.0" x2="368.6" y2="478.5" stroke="#000" stroke-width="1.6"/>
<line x1="468.6" y1="484.0" x2="468.6" y2="478.5" stroke="#000" stroke-width="1.6"/>
<text x="62.5" y="490.3" font-size="20" text-anchor="end">1.3</text>
<text x="62.5" y="373.8" font-size="20" text-anchor="end">1.5</text>
<text x="62.5" y="257.3" font-size="20" text-anchor="end">1.7</text>
<text x="62.5" y="140.8" font-size="20" text-anchor="end">1.9</text>
<text x="474.5" y="373.8" font-size="20">58</text>
<text x="474.5" y="257.3" font-size="20">63</text>
<text x="474.5" y="140.8" font-size="20">68</text>
<text x="474.5" y="24.3" font-size="20">73</text>
<text x="68.6" y="505" font-size="20" text-anchor="middle">30</text>
<text x="168.6" y="505" font-size="20" text-anchor="middle">50</text>
<text x="268.6" y="505" font-size="20" text-anchor="middle">70</text>
<text x="368.6" y="505" font-size="20" text-anchor="middle">90</text>
<text x="468.6" y="505" font-size="20" text-anchor="middle">110</text>
<text x="269.3" y="538.7" font-size="21.45" text-anchor="middle">Mass flow rate (g/s)</text>
<text transform="translate(26.8,308.9) rotate(-90)" font-size="21.45" text-anchor="middle">Total pressure ratio</text>
<text transform="translate(519.1,198.0) rotate(-90)" font-size="21.45" text-anchor="middle">Isentropic efficiency (%)</text>
<path d="M84,383.5 L130.5,383.5" fill="none" stroke="#000000" stroke-width="2.4" stroke-linecap="round" stroke-dasharray="0.01 5.25"/>
<circle cx="106.8" cy="383.5" r="2.70" fill="#000000"/>
<text x="135.1" y="389.7" font-size="20">Unswept</text>
<path d="M84,408.5 L130.5,408.5" fill="none" stroke="#FFB400" stroke-width="2" stroke-dasharray="4.3 4.5"/>
<polygon points="106.8,405.4 110.0,410.6 103.6,410.6" fill="#FFB400"/>
<text x="135.1" y="414.7" font-size="20">Leading edge forward swept 5°</text>
<path d="M84,433.3 L130.5,433.3" fill="none" stroke="#02AC32" stroke-width="2" stroke-dasharray="10.7 5.4 1.6 6.5"/>
<polygon points="106.8,429.8 110.1,433.3 106.8,436.8 103.5,433.3" fill="#02AC32"/>
<text x="135.1" y="439.5" font-size="20">Leading edge forward swept 10°</text>
<path d="M84,458.0 L130.5,458.0" fill="none" stroke="#FF0000" stroke-width="2"/>
<rect x="104.3" y="455.5" width="5.0" height="5.0" fill="#FF0000"/>
<text x="135.1" y="464.2" font-size="20">Leading edge forward swept 15°</text>
</svg></body></html>
